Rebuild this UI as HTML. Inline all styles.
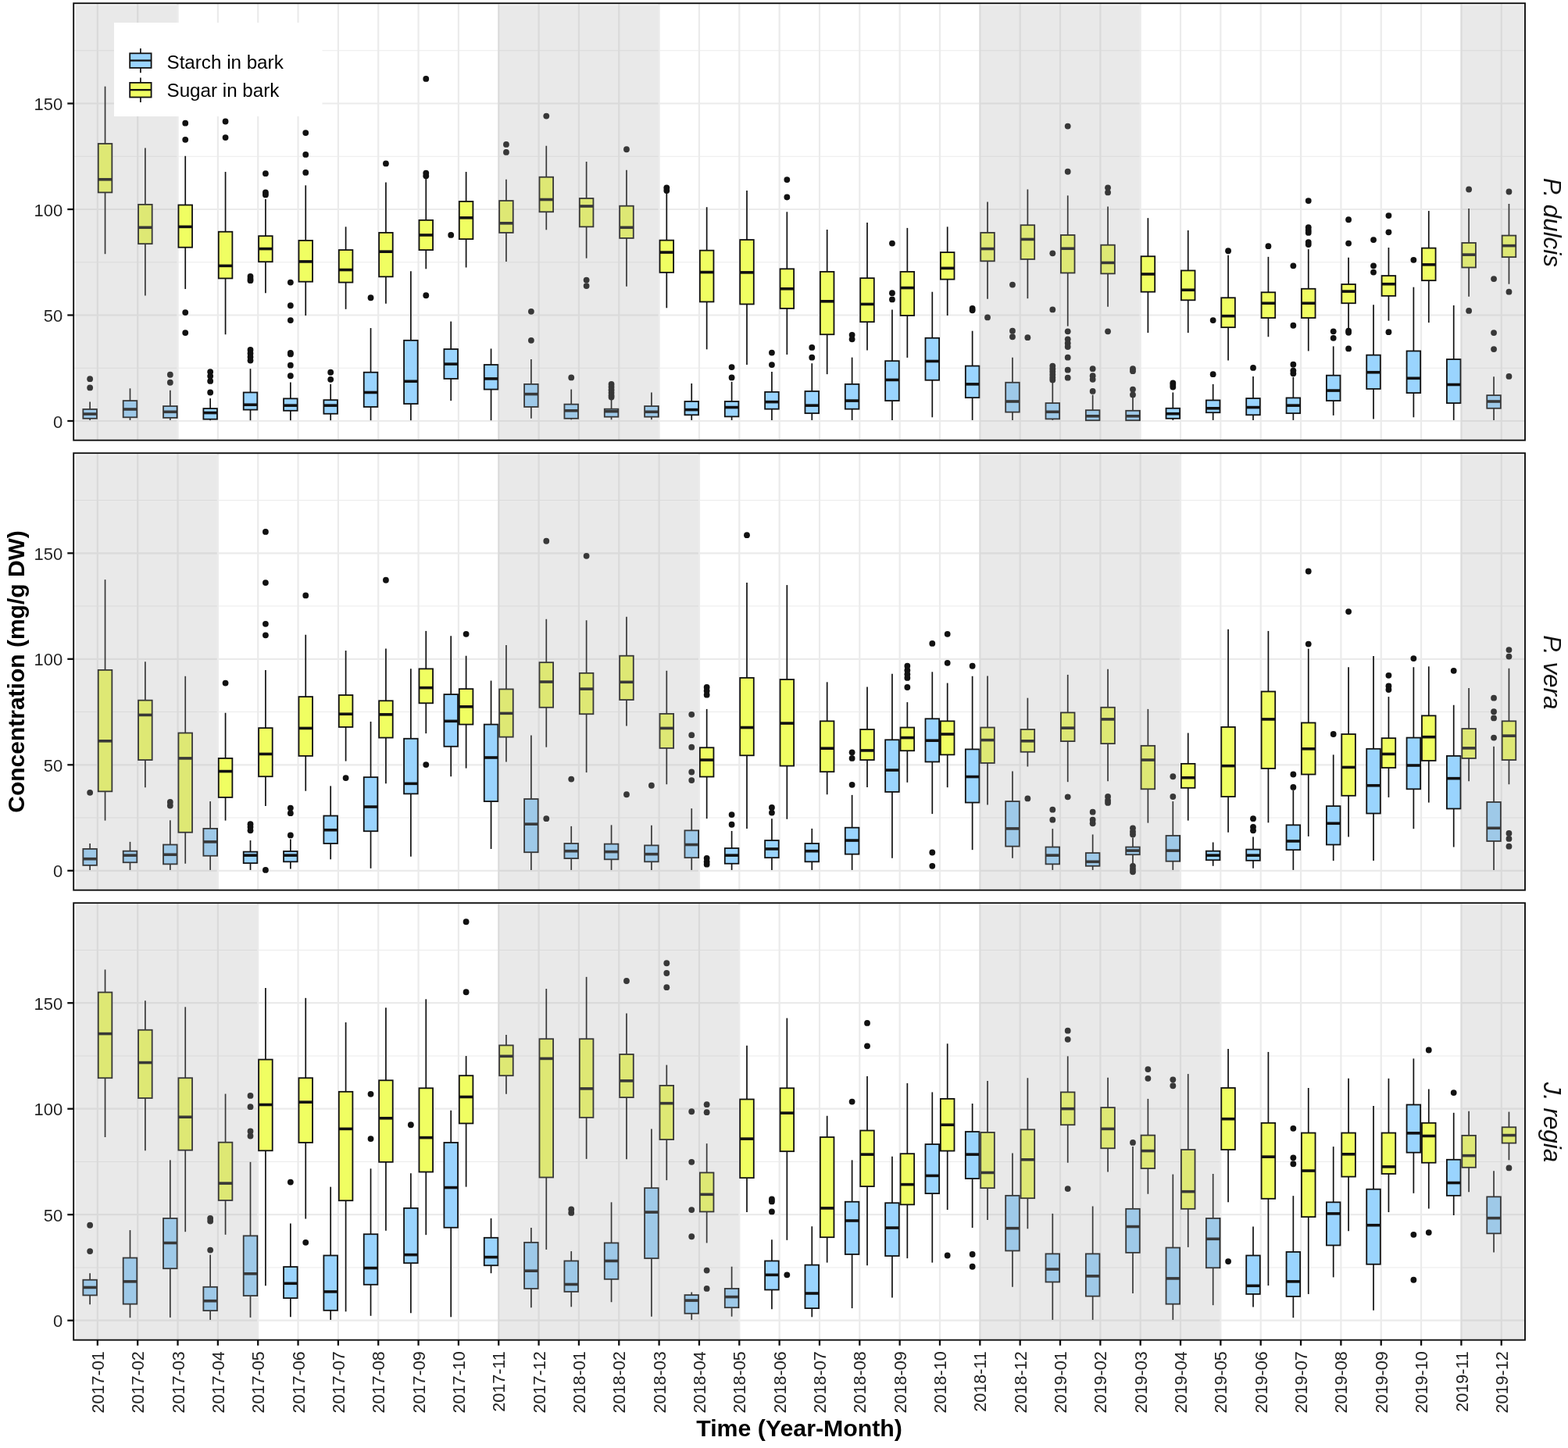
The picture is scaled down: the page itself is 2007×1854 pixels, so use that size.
<!DOCTYPE html>
<html><head><meta charset="utf-8"><title>Starch and sugar in bark</title>
<style>html,body{margin:0;padding:0;background:#fff;}svg{display:block;}text{font-family:"Liberation Sans",Arial,sans-serif;}</style></head><body>
<svg width="2007" height="1854" viewBox="0 0 2007 1854">
<rect x="0" y="0" width="2007" height="1854" fill="#fff"/>
<g>
<rect x="94.2" y="4.2" width="1857.8" height="559.5" fill="#fff"/>
<line x1="94.2" y1="471.25" x2="1952" y2="471.25" stroke="#ebebeb" stroke-width="1.1"/>
<line x1="94.2" y1="335.75" x2="1952" y2="335.75" stroke="#ebebeb" stroke-width="1.1"/>
<line x1="94.2" y1="200.25" x2="1952" y2="200.25" stroke="#ebebeb" stroke-width="1.1"/>
<line x1="94.2" y1="64.75" x2="1952" y2="64.75" stroke="#ebebeb" stroke-width="1.1"/>
<line x1="94.2" y1="539" x2="1952" y2="539" stroke="#ebebeb" stroke-width="2.2"/>
<line x1="94.2" y1="403.5" x2="1952" y2="403.5" stroke="#ebebeb" stroke-width="2.2"/>
<line x1="94.2" y1="268" x2="1952" y2="268" stroke="#ebebeb" stroke-width="2.2"/>
<line x1="94.2" y1="132.5" x2="1952" y2="132.5" stroke="#ebebeb" stroke-width="2.2"/>
<line x1="124.85" y1="4.2" x2="124.85" y2="563.7" stroke="#ebebeb" stroke-width="2.2"/>
<line x1="176.19" y1="4.2" x2="176.19" y2="563.7" stroke="#ebebeb" stroke-width="2.2"/>
<line x1="227.53" y1="4.2" x2="227.53" y2="563.7" stroke="#ebebeb" stroke-width="2.2"/>
<line x1="278.87" y1="4.2" x2="278.87" y2="563.7" stroke="#ebebeb" stroke-width="2.2"/>
<line x1="330.21" y1="4.2" x2="330.21" y2="563.7" stroke="#ebebeb" stroke-width="2.2"/>
<line x1="381.55" y1="4.2" x2="381.55" y2="563.7" stroke="#ebebeb" stroke-width="2.2"/>
<line x1="432.89" y1="4.2" x2="432.89" y2="563.7" stroke="#ebebeb" stroke-width="2.2"/>
<line x1="484.23" y1="4.2" x2="484.23" y2="563.7" stroke="#ebebeb" stroke-width="2.2"/>
<line x1="535.57" y1="4.2" x2="535.57" y2="563.7" stroke="#ebebeb" stroke-width="2.2"/>
<line x1="586.91" y1="4.2" x2="586.91" y2="563.7" stroke="#ebebeb" stroke-width="2.2"/>
<line x1="638.25" y1="4.2" x2="638.25" y2="563.7" stroke="#ebebeb" stroke-width="2.2"/>
<line x1="689.59" y1="4.2" x2="689.59" y2="563.7" stroke="#ebebeb" stroke-width="2.2"/>
<line x1="740.93" y1="4.2" x2="740.93" y2="563.7" stroke="#ebebeb" stroke-width="2.2"/>
<line x1="792.27" y1="4.2" x2="792.27" y2="563.7" stroke="#ebebeb" stroke-width="2.2"/>
<line x1="843.61" y1="4.2" x2="843.61" y2="563.7" stroke="#ebebeb" stroke-width="2.2"/>
<line x1="894.95" y1="4.2" x2="894.95" y2="563.7" stroke="#ebebeb" stroke-width="2.2"/>
<line x1="946.29" y1="4.2" x2="946.29" y2="563.7" stroke="#ebebeb" stroke-width="2.2"/>
<line x1="997.63" y1="4.2" x2="997.63" y2="563.7" stroke="#ebebeb" stroke-width="2.2"/>
<line x1="1048.97" y1="4.2" x2="1048.97" y2="563.7" stroke="#ebebeb" stroke-width="2.2"/>
<line x1="1100.31" y1="4.2" x2="1100.31" y2="563.7" stroke="#ebebeb" stroke-width="2.2"/>
<line x1="1151.65" y1="4.2" x2="1151.65" y2="563.7" stroke="#ebebeb" stroke-width="2.2"/>
<line x1="1202.99" y1="4.2" x2="1202.99" y2="563.7" stroke="#ebebeb" stroke-width="2.2"/>
<line x1="1254.33" y1="4.2" x2="1254.33" y2="563.7" stroke="#ebebeb" stroke-width="2.2"/>
<line x1="1305.67" y1="4.2" x2="1305.67" y2="563.7" stroke="#ebebeb" stroke-width="2.2"/>
<line x1="1357.01" y1="4.2" x2="1357.01" y2="563.7" stroke="#ebebeb" stroke-width="2.2"/>
<line x1="1408.35" y1="4.2" x2="1408.35" y2="563.7" stroke="#ebebeb" stroke-width="2.2"/>
<line x1="1459.69" y1="4.2" x2="1459.69" y2="563.7" stroke="#ebebeb" stroke-width="2.2"/>
<line x1="1511.03" y1="4.2" x2="1511.03" y2="563.7" stroke="#ebebeb" stroke-width="2.2"/>
<line x1="1562.37" y1="4.2" x2="1562.37" y2="563.7" stroke="#ebebeb" stroke-width="2.2"/>
<line x1="1613.71" y1="4.2" x2="1613.71" y2="563.7" stroke="#ebebeb" stroke-width="2.2"/>
<line x1="1665.05" y1="4.2" x2="1665.05" y2="563.7" stroke="#ebebeb" stroke-width="2.2"/>
<line x1="1716.39" y1="4.2" x2="1716.39" y2="563.7" stroke="#ebebeb" stroke-width="2.2"/>
<line x1="1767.73" y1="4.2" x2="1767.73" y2="563.7" stroke="#ebebeb" stroke-width="2.2"/>
<line x1="1819.07" y1="4.2" x2="1819.07" y2="563.7" stroke="#ebebeb" stroke-width="2.2"/>
<line x1="1870.41" y1="4.2" x2="1870.41" y2="563.7" stroke="#ebebeb" stroke-width="2.2"/>
<line x1="1921.75" y1="4.2" x2="1921.75" y2="563.7" stroke="#ebebeb" stroke-width="2.2"/>
<line x1="115.15" y1="514.61" x2="115.15" y2="524" stroke="#111111" stroke-width="1.7"/>
<line x1="115.15" y1="535.82" x2="115.15" y2="537.94" stroke="#111111" stroke-width="1.7"/>
<rect x="106.35" y="524" width="17.6" height="11.82" fill="#9ad4fe" stroke="#111111" stroke-width="1.8"/>
<line x1="106.35" y1="530.06" x2="123.95" y2="530.06" stroke="#111111" stroke-width="3.6"/>
<circle cx="115.15" cy="485.21" r="3.9" fill="#111111"/>
<circle cx="115.15" cy="496.42" r="3.9" fill="#111111"/>
<line x1="134.55" y1="110.67" x2="134.55" y2="184" stroke="#111111" stroke-width="1.7"/>
<line x1="134.55" y1="246.42" x2="134.55" y2="325.21" stroke="#111111" stroke-width="1.7"/>
<rect x="125.75" y="184" width="17.6" height="62.42" fill="#f0fe62" stroke="#111111" stroke-width="1.8"/>
<line x1="125.75" y1="229.76" x2="143.35" y2="229.76" stroke="#111111" stroke-width="3.6"/>
<line x1="166.49" y1="497.33" x2="166.49" y2="513.09" stroke="#111111" stroke-width="1.7"/>
<line x1="166.49" y1="534.3" x2="166.49" y2="537.94" stroke="#111111" stroke-width="1.7"/>
<rect x="157.69" y="513.09" width="17.6" height="21.21" fill="#9ad4fe" stroke="#111111" stroke-width="1.8"/>
<line x1="157.69" y1="524" x2="175.29" y2="524" stroke="#111111" stroke-width="3.6"/>
<line x1="185.89" y1="189.45" x2="185.89" y2="261.88" stroke="#111111" stroke-width="1.7"/>
<line x1="185.89" y1="312.18" x2="185.89" y2="378.55" stroke="#111111" stroke-width="1.7"/>
<rect x="177.09" y="261.88" width="17.6" height="50.3" fill="#f0fe62" stroke="#111111" stroke-width="1.8"/>
<line x1="177.09" y1="291.27" x2="194.69" y2="291.27" stroke="#111111" stroke-width="3.6"/>
<line x1="217.83" y1="499.76" x2="217.83" y2="520.06" stroke="#111111" stroke-width="1.7"/>
<line x1="217.83" y1="534.91" x2="217.83" y2="537.94" stroke="#111111" stroke-width="1.7"/>
<rect x="209.03" y="520.06" width="17.6" height="14.85" fill="#9ad4fe" stroke="#111111" stroke-width="1.8"/>
<line x1="209.03" y1="527.33" x2="226.63" y2="527.33" stroke="#111111" stroke-width="3.6"/>
<circle cx="217.83" cy="479.76" r="3.9" fill="#111111"/>
<circle cx="217.83" cy="489.76" r="3.9" fill="#111111"/>
<line x1="237.23" y1="199.76" x2="237.23" y2="262.48" stroke="#111111" stroke-width="1.7"/>
<line x1="237.23" y1="316.73" x2="237.23" y2="370.06" stroke="#111111" stroke-width="1.7"/>
<rect x="228.43" y="262.48" width="17.6" height="54.24" fill="#f0fe62" stroke="#111111" stroke-width="1.8"/>
<line x1="228.43" y1="290.36" x2="246.03" y2="290.36" stroke="#111111" stroke-width="3.6"/>
<circle cx="237.23" cy="157.64" r="3.9" fill="#111111"/>
<circle cx="237.23" cy="178.85" r="3.9" fill="#111111"/>
<circle cx="237.23" cy="400.06" r="3.9" fill="#111111"/>
<circle cx="237.23" cy="426.12" r="3.9" fill="#111111"/>
<line x1="269.17" y1="510.06" x2="269.17" y2="523.09" stroke="#111111" stroke-width="1.7"/>
<line x1="269.17" y1="536.73" x2="269.17" y2="538.24" stroke="#111111" stroke-width="1.7"/>
<rect x="260.37" y="523.09" width="17.6" height="13.64" fill="#9ad4fe" stroke="#111111" stroke-width="1.8"/>
<line x1="260.37" y1="528.55" x2="277.97" y2="528.55" stroke="#111111" stroke-width="3.6"/>
<circle cx="269.17" cy="476.12" r="3.9" fill="#111111"/>
<circle cx="269.17" cy="481.58" r="3.9" fill="#111111"/>
<circle cx="269.17" cy="487.94" r="3.9" fill="#111111"/>
<circle cx="269.17" cy="502.48" r="3.9" fill="#111111"/>
<line x1="288.57" y1="220.06" x2="288.57" y2="296.73" stroke="#111111" stroke-width="1.7"/>
<line x1="288.57" y1="356.42" x2="288.57" y2="428.24" stroke="#111111" stroke-width="1.7"/>
<rect x="279.77" y="296.73" width="17.6" height="59.7" fill="#f0fe62" stroke="#111111" stroke-width="1.8"/>
<line x1="279.77" y1="340.36" x2="297.37" y2="340.36" stroke="#111111" stroke-width="3.6"/>
<circle cx="288.57" cy="155.52" r="3.9" fill="#111111"/>
<circle cx="288.57" cy="176.12" r="3.9" fill="#111111"/>
<line x1="320.51" y1="472.18" x2="320.51" y2="502.48" stroke="#111111" stroke-width="1.7"/>
<line x1="320.51" y1="524.61" x2="320.51" y2="538.24" stroke="#111111" stroke-width="1.7"/>
<rect x="311.71" y="502.48" width="17.6" height="22.12" fill="#9ad4fe" stroke="#111111" stroke-width="1.8"/>
<line x1="311.71" y1="518.24" x2="329.31" y2="518.24" stroke="#111111" stroke-width="3.6"/>
<circle cx="320.51" cy="447.94" r="3.9" fill="#111111"/>
<circle cx="320.51" cy="452.48" r="3.9" fill="#111111"/>
<circle cx="320.51" cy="457.03" r="3.9" fill="#111111"/>
<circle cx="320.51" cy="461.58" r="3.9" fill="#111111"/>
<circle cx="320.51" cy="354" r="3.9" fill="#111111"/>
<circle cx="320.51" cy="357.03" r="3.9" fill="#111111"/>
<circle cx="320.51" cy="359.15" r="3.9" fill="#111111"/>
<line x1="339.91" y1="254.91" x2="339.91" y2="302.18" stroke="#111111" stroke-width="1.7"/>
<line x1="339.91" y1="335.21" x2="339.91" y2="375.21" stroke="#111111" stroke-width="1.7"/>
<rect x="331.11" y="302.18" width="17.6" height="33.03" fill="#f0fe62" stroke="#111111" stroke-width="1.8"/>
<line x1="331.11" y1="318.55" x2="348.71" y2="318.55" stroke="#111111" stroke-width="3.6"/>
<circle cx="339.91" cy="222.18" r="3.9" fill="#111111"/>
<circle cx="339.91" cy="246.42" r="3.9" fill="#111111"/>
<circle cx="339.91" cy="249.45" r="3.9" fill="#111111"/>
<line x1="371.85" y1="489.45" x2="371.85" y2="510.36" stroke="#111111" stroke-width="1.7"/>
<line x1="371.85" y1="525.82" x2="371.85" y2="538.24" stroke="#111111" stroke-width="1.7"/>
<rect x="363.05" y="510.36" width="17.6" height="15.45" fill="#9ad4fe" stroke="#111111" stroke-width="1.8"/>
<line x1="363.05" y1="519.15" x2="380.65" y2="519.15" stroke="#111111" stroke-width="3.6"/>
<circle cx="371.85" cy="361.58" r="3.9" fill="#111111"/>
<circle cx="371.85" cy="391.27" r="3.9" fill="#111111"/>
<circle cx="371.85" cy="410.06" r="3.9" fill="#111111"/>
<circle cx="371.85" cy="451.88" r="3.9" fill="#111111"/>
<circle cx="371.85" cy="453.39" r="3.9" fill="#111111"/>
<circle cx="371.85" cy="467.64" r="3.9" fill="#111111"/>
<circle cx="371.85" cy="481.27" r="3.9" fill="#111111"/>
<line x1="391.25" y1="237.33" x2="391.25" y2="307.94" stroke="#111111" stroke-width="1.7"/>
<line x1="391.25" y1="360.67" x2="391.25" y2="404" stroke="#111111" stroke-width="1.7"/>
<rect x="382.45" y="307.94" width="17.6" height="52.73" fill="#f0fe62" stroke="#111111" stroke-width="1.8"/>
<line x1="382.45" y1="334.91" x2="400.05" y2="334.91" stroke="#111111" stroke-width="3.6"/>
<circle cx="391.25" cy="170.06" r="3.9" fill="#111111"/>
<circle cx="391.25" cy="197.94" r="3.9" fill="#111111"/>
<circle cx="391.25" cy="220.97" r="3.9" fill="#111111"/>
<line x1="423.19" y1="491.88" x2="423.19" y2="512.18" stroke="#111111" stroke-width="1.7"/>
<line x1="423.19" y1="529.76" x2="423.19" y2="538.24" stroke="#111111" stroke-width="1.7"/>
<rect x="414.39" y="512.18" width="17.6" height="17.58" fill="#9ad4fe" stroke="#111111" stroke-width="1.8"/>
<line x1="414.39" y1="519.15" x2="431.99" y2="519.15" stroke="#111111" stroke-width="3.6"/>
<circle cx="423.19" cy="476.73" r="3.9" fill="#111111"/>
<circle cx="423.19" cy="485.82" r="3.9" fill="#111111"/>
<line x1="442.59" y1="290.36" x2="442.59" y2="320.06" stroke="#111111" stroke-width="1.7"/>
<line x1="442.59" y1="361.58" x2="442.59" y2="395.82" stroke="#111111" stroke-width="1.7"/>
<rect x="433.79" y="320.06" width="17.6" height="41.52" fill="#f0fe62" stroke="#111111" stroke-width="1.8"/>
<line x1="433.79" y1="345.52" x2="451.39" y2="345.52" stroke="#111111" stroke-width="3.6"/>
<line x1="474.53" y1="420.06" x2="474.53" y2="476.73" stroke="#111111" stroke-width="1.7"/>
<line x1="474.53" y1="520.97" x2="474.53" y2="538.24" stroke="#111111" stroke-width="1.7"/>
<rect x="465.73" y="476.73" width="17.6" height="44.24" fill="#9ad4fe" stroke="#111111" stroke-width="1.8"/>
<line x1="465.73" y1="502.48" x2="483.33" y2="502.48" stroke="#111111" stroke-width="3.6"/>
<circle cx="474.53" cy="381.27" r="3.9" fill="#111111"/>
<line x1="493.93" y1="233.39" x2="493.93" y2="297.94" stroke="#111111" stroke-width="1.7"/>
<line x1="493.93" y1="354.3" x2="493.93" y2="388.85" stroke="#111111" stroke-width="1.7"/>
<rect x="485.13" y="297.94" width="17.6" height="56.36" fill="#f0fe62" stroke="#111111" stroke-width="1.8"/>
<line x1="485.13" y1="322.18" x2="502.73" y2="322.18" stroke="#111111" stroke-width="3.6"/>
<circle cx="493.93" cy="209.45" r="3.9" fill="#111111"/>
<line x1="525.87" y1="347.33" x2="525.87" y2="435.82" stroke="#111111" stroke-width="1.7"/>
<line x1="525.87" y1="517.03" x2="525.87" y2="538.24" stroke="#111111" stroke-width="1.7"/>
<rect x="517.07" y="435.82" width="17.6" height="81.21" fill="#9ad4fe" stroke="#111111" stroke-width="1.8"/>
<line x1="517.07" y1="488.24" x2="534.67" y2="488.24" stroke="#111111" stroke-width="3.6"/>
<line x1="545.27" y1="226.73" x2="545.27" y2="281.88" stroke="#111111" stroke-width="1.7"/>
<line x1="545.27" y1="320.06" x2="545.27" y2="344.3" stroke="#111111" stroke-width="1.7"/>
<rect x="536.47" y="281.88" width="17.6" height="38.18" fill="#f0fe62" stroke="#111111" stroke-width="1.8"/>
<line x1="536.47" y1="300.97" x2="554.07" y2="300.97" stroke="#111111" stroke-width="3.6"/>
<circle cx="545.27" cy="100.97" r="3.9" fill="#111111"/>
<circle cx="545.27" cy="221.58" r="3.9" fill="#111111"/>
<circle cx="545.27" cy="225.21" r="3.9" fill="#111111"/>
<circle cx="545.27" cy="378.24" r="3.9" fill="#111111"/>
<line x1="577.21" y1="411.58" x2="577.21" y2="447.03" stroke="#111111" stroke-width="1.7"/>
<line x1="577.21" y1="484.91" x2="577.21" y2="513.09" stroke="#111111" stroke-width="1.7"/>
<rect x="568.41" y="447.03" width="17.6" height="37.88" fill="#9ad4fe" stroke="#111111" stroke-width="1.8"/>
<line x1="568.41" y1="466.12" x2="586.01" y2="466.12" stroke="#111111" stroke-width="3.6"/>
<circle cx="577.21" cy="300.97" r="3.9" fill="#111111"/>
<line x1="596.61" y1="220.06" x2="596.61" y2="257.94" stroke="#111111" stroke-width="1.7"/>
<line x1="596.61" y1="306.12" x2="596.61" y2="342.48" stroke="#111111" stroke-width="1.7"/>
<rect x="587.81" y="257.94" width="17.6" height="48.18" fill="#f0fe62" stroke="#111111" stroke-width="1.8"/>
<line x1="587.81" y1="278.85" x2="605.41" y2="278.85" stroke="#111111" stroke-width="3.6"/>
<line x1="628.55" y1="446.42" x2="628.55" y2="467.03" stroke="#111111" stroke-width="1.7"/>
<line x1="628.55" y1="498.55" x2="628.55" y2="538.24" stroke="#111111" stroke-width="1.7"/>
<rect x="619.75" y="467.03" width="17.6" height="31.52" fill="#9ad4fe" stroke="#111111" stroke-width="1.8"/>
<line x1="619.75" y1="484.91" x2="637.35" y2="484.91" stroke="#111111" stroke-width="3.6"/>
<line x1="647.95" y1="229.76" x2="647.95" y2="257.03" stroke="#111111" stroke-width="1.7"/>
<line x1="647.95" y1="297.94" x2="647.95" y2="334.91" stroke="#111111" stroke-width="1.7"/>
<rect x="639.15" y="257.03" width="17.6" height="40.91" fill="#f0fe62" stroke="#111111" stroke-width="1.8"/>
<line x1="639.15" y1="285.82" x2="656.75" y2="285.82" stroke="#111111" stroke-width="3.6"/>
<circle cx="647.95" cy="184.91" r="3.9" fill="#111111"/>
<circle cx="647.95" cy="194.91" r="3.9" fill="#111111"/>
<line x1="679.89" y1="460.06" x2="679.89" y2="491.88" stroke="#111111" stroke-width="1.7"/>
<line x1="679.89" y1="520.97" x2="679.89" y2="535.82" stroke="#111111" stroke-width="1.7"/>
<rect x="671.09" y="491.88" width="17.6" height="29.09" fill="#9ad4fe" stroke="#111111" stroke-width="1.8"/>
<line x1="671.09" y1="504.61" x2="688.69" y2="504.61" stroke="#111111" stroke-width="3.6"/>
<circle cx="679.89" cy="398.85" r="3.9" fill="#111111"/>
<circle cx="679.89" cy="435.82" r="3.9" fill="#111111"/>
<line x1="699.29" y1="186.73" x2="699.29" y2="226.73" stroke="#111111" stroke-width="1.7"/>
<line x1="699.29" y1="271.27" x2="699.29" y2="294.3" stroke="#111111" stroke-width="1.7"/>
<rect x="690.49" y="226.73" width="17.6" height="44.55" fill="#f0fe62" stroke="#111111" stroke-width="1.8"/>
<line x1="690.49" y1="255.52" x2="708.09" y2="255.52" stroke="#111111" stroke-width="3.6"/>
<circle cx="699.29" cy="148.55" r="3.9" fill="#111111"/>
<line x1="731.23" y1="498.55" x2="731.23" y2="517.64" stroke="#111111" stroke-width="1.7"/>
<line x1="731.23" y1="535.82" x2="731.23" y2="537.33" stroke="#111111" stroke-width="1.7"/>
<rect x="722.43" y="517.64" width="17.6" height="18.18" fill="#9ad4fe" stroke="#111111" stroke-width="1.8"/>
<line x1="722.43" y1="525.82" x2="740.03" y2="525.82" stroke="#111111" stroke-width="3.6"/>
<circle cx="731.23" cy="483.39" r="3.9" fill="#111111"/>
<line x1="750.63" y1="207.03" x2="750.63" y2="254" stroke="#111111" stroke-width="1.7"/>
<line x1="750.63" y1="290.36" x2="750.63" y2="330.67" stroke="#111111" stroke-width="1.7"/>
<rect x="741.83" y="254" width="17.6" height="36.36" fill="#f0fe62" stroke="#111111" stroke-width="1.8"/>
<line x1="741.83" y1="264" x2="759.43" y2="264" stroke="#111111" stroke-width="3.6"/>
<circle cx="750.63" cy="358.55" r="3.9" fill="#111111"/>
<circle cx="750.63" cy="366.12" r="3.9" fill="#111111"/>
<line x1="782.57" y1="510.67" x2="782.57" y2="523.7" stroke="#111111" stroke-width="1.7"/>
<line x1="782.57" y1="533.7" x2="782.57" y2="537.33" stroke="#111111" stroke-width="1.7"/>
<rect x="773.77" y="523.7" width="17.6" height="10" fill="#9ad4fe" stroke="#111111" stroke-width="1.8"/>
<line x1="773.77" y1="526.73" x2="791.37" y2="526.73" stroke="#111111" stroke-width="3.6"/>
<circle cx="782.57" cy="491.88" r="3.9" fill="#111111"/>
<circle cx="782.57" cy="495.52" r="3.9" fill="#111111"/>
<circle cx="782.57" cy="499.15" r="3.9" fill="#111111"/>
<circle cx="782.57" cy="502.79" r="3.9" fill="#111111"/>
<circle cx="782.57" cy="506.42" r="3.9" fill="#111111"/>
<circle cx="782.57" cy="508.55" r="3.9" fill="#111111"/>
<line x1="801.97" y1="217.64" x2="801.97" y2="263.7" stroke="#111111" stroke-width="1.7"/>
<line x1="801.97" y1="304.91" x2="801.97" y2="366.73" stroke="#111111" stroke-width="1.7"/>
<rect x="793.17" y="263.7" width="17.6" height="41.21" fill="#f0fe62" stroke="#111111" stroke-width="1.8"/>
<line x1="793.17" y1="291.27" x2="810.77" y2="291.27" stroke="#111111" stroke-width="3.6"/>
<circle cx="801.97" cy="191.27" r="3.9" fill="#111111"/>
<line x1="833.91" y1="502.48" x2="833.91" y2="520.06" stroke="#111111" stroke-width="1.7"/>
<line x1="833.91" y1="533.7" x2="833.91" y2="537.33" stroke="#111111" stroke-width="1.7"/>
<rect x="825.11" y="520.06" width="17.6" height="13.64" fill="#9ad4fe" stroke="#111111" stroke-width="1.8"/>
<line x1="825.11" y1="527.33" x2="842.71" y2="527.33" stroke="#111111" stroke-width="3.6"/>
<line x1="853.31" y1="246.42" x2="853.31" y2="307.64" stroke="#111111" stroke-width="1.7"/>
<line x1="853.31" y1="348.85" x2="853.31" y2="394.3" stroke="#111111" stroke-width="1.7"/>
<rect x="844.51" y="307.64" width="17.6" height="41.21" fill="#f0fe62" stroke="#111111" stroke-width="1.8"/>
<line x1="844.51" y1="323.09" x2="862.11" y2="323.09" stroke="#111111" stroke-width="3.6"/>
<circle cx="853.31" cy="240.36" r="3.9" fill="#111111"/>
<circle cx="853.31" cy="244" r="3.9" fill="#111111"/>
<line x1="885.25" y1="490.97" x2="885.25" y2="514" stroke="#111111" stroke-width="1.7"/>
<line x1="885.25" y1="531.27" x2="885.25" y2="537.94" stroke="#111111" stroke-width="1.7"/>
<rect x="876.45" y="514" width="17.6" height="17.27" fill="#9ad4fe" stroke="#111111" stroke-width="1.8"/>
<line x1="876.45" y1="524.61" x2="894.05" y2="524.61" stroke="#111111" stroke-width="3.6"/>
<line x1="904.65" y1="265.21" x2="904.65" y2="320.67" stroke="#111111" stroke-width="1.7"/>
<line x1="904.65" y1="386.42" x2="904.65" y2="447.33" stroke="#111111" stroke-width="1.7"/>
<rect x="895.85" y="320.67" width="17.6" height="65.76" fill="#f0fe62" stroke="#111111" stroke-width="1.8"/>
<line x1="895.85" y1="348.55" x2="913.45" y2="348.55" stroke="#111111" stroke-width="3.6"/>
<line x1="936.59" y1="488.85" x2="936.59" y2="514" stroke="#111111" stroke-width="1.7"/>
<line x1="936.59" y1="533.39" x2="936.59" y2="537.94" stroke="#111111" stroke-width="1.7"/>
<rect x="927.79" y="514" width="17.6" height="19.39" fill="#9ad4fe" stroke="#111111" stroke-width="1.8"/>
<line x1="927.79" y1="521.58" x2="945.39" y2="521.58" stroke="#111111" stroke-width="3.6"/>
<circle cx="936.59" cy="470.06" r="3.9" fill="#111111"/>
<circle cx="936.59" cy="483.39" r="3.9" fill="#111111"/>
<line x1="955.99" y1="244" x2="955.99" y2="307.03" stroke="#111111" stroke-width="1.7"/>
<line x1="955.99" y1="389.45" x2="955.99" y2="467.03" stroke="#111111" stroke-width="1.7"/>
<rect x="947.19" y="307.03" width="17.6" height="82.42" fill="#f0fe62" stroke="#111111" stroke-width="1.8"/>
<line x1="947.19" y1="348.85" x2="964.79" y2="348.85" stroke="#111111" stroke-width="3.6"/>
<line x1="987.93" y1="476.12" x2="987.93" y2="501.88" stroke="#111111" stroke-width="1.7"/>
<line x1="987.93" y1="523.7" x2="987.93" y2="537.94" stroke="#111111" stroke-width="1.7"/>
<rect x="979.13" y="501.88" width="17.6" height="21.82" fill="#9ad4fe" stroke="#111111" stroke-width="1.8"/>
<line x1="979.13" y1="514.61" x2="996.73" y2="514.61" stroke="#111111" stroke-width="3.6"/>
<circle cx="987.93" cy="451.58" r="3.9" fill="#111111"/>
<circle cx="987.93" cy="467.03" r="3.9" fill="#111111"/>
<line x1="1007.33" y1="271.27" x2="1007.33" y2="344.3" stroke="#111111" stroke-width="1.7"/>
<line x1="1007.33" y1="394.91" x2="1007.33" y2="454" stroke="#111111" stroke-width="1.7"/>
<rect x="998.53" y="344.3" width="17.6" height="50.61" fill="#f0fe62" stroke="#111111" stroke-width="1.8"/>
<line x1="998.53" y1="369.76" x2="1016.13" y2="369.76" stroke="#111111" stroke-width="3.6"/>
<circle cx="1007.33" cy="230.06" r="3.9" fill="#111111"/>
<circle cx="1007.33" cy="252.48" r="3.9" fill="#111111"/>
<line x1="1039.27" y1="465.21" x2="1039.27" y2="500.97" stroke="#111111" stroke-width="1.7"/>
<line x1="1039.27" y1="529.15" x2="1039.27" y2="537.94" stroke="#111111" stroke-width="1.7"/>
<rect x="1030.47" y="500.97" width="17.6" height="28.18" fill="#9ad4fe" stroke="#111111" stroke-width="1.8"/>
<line x1="1030.47" y1="519.15" x2="1048.07" y2="519.15" stroke="#111111" stroke-width="3.6"/>
<circle cx="1039.27" cy="444.91" r="3.9" fill="#111111"/>
<circle cx="1039.27" cy="457.64" r="3.9" fill="#111111"/>
<line x1="1058.67" y1="294" x2="1058.67" y2="347.94" stroke="#111111" stroke-width="1.7"/>
<line x1="1058.67" y1="428.24" x2="1058.67" y2="479.15" stroke="#111111" stroke-width="1.7"/>
<rect x="1049.87" y="347.94" width="17.6" height="80.3" fill="#f0fe62" stroke="#111111" stroke-width="1.8"/>
<line x1="1049.87" y1="385.82" x2="1067.47" y2="385.82" stroke="#111111" stroke-width="3.6"/>
<line x1="1090.61" y1="457.64" x2="1090.61" y2="491.88" stroke="#111111" stroke-width="1.7"/>
<line x1="1090.61" y1="523.7" x2="1090.61" y2="537.94" stroke="#111111" stroke-width="1.7"/>
<rect x="1081.81" y="491.88" width="17.6" height="31.82" fill="#9ad4fe" stroke="#111111" stroke-width="1.8"/>
<line x1="1081.81" y1="513.09" x2="1099.41" y2="513.09" stroke="#111111" stroke-width="3.6"/>
<circle cx="1090.61" cy="428.85" r="3.9" fill="#111111"/>
<circle cx="1090.61" cy="434.3" r="3.9" fill="#111111"/>
<line x1="1110.01" y1="284.91" x2="1110.01" y2="356.12" stroke="#111111" stroke-width="1.7"/>
<line x1="1110.01" y1="412.18" x2="1110.01" y2="448.55" stroke="#111111" stroke-width="1.7"/>
<rect x="1101.21" y="356.12" width="17.6" height="56.06" fill="#f0fe62" stroke="#111111" stroke-width="1.8"/>
<line x1="1101.21" y1="389.45" x2="1118.81" y2="389.45" stroke="#111111" stroke-width="3.6"/>
<line x1="1141.95" y1="396.42" x2="1141.95" y2="462.18" stroke="#111111" stroke-width="1.7"/>
<line x1="1141.95" y1="513.09" x2="1141.95" y2="537.94" stroke="#111111" stroke-width="1.7"/>
<rect x="1133.15" y="462.18" width="17.6" height="50.91" fill="#9ad4fe" stroke="#111111" stroke-width="1.8"/>
<line x1="1133.15" y1="486.42" x2="1150.75" y2="486.42" stroke="#111111" stroke-width="3.6"/>
<circle cx="1141.95" cy="311.58" r="3.9" fill="#111111"/>
<circle cx="1141.95" cy="375.21" r="3.9" fill="#111111"/>
<circle cx="1141.95" cy="383.39" r="3.9" fill="#111111"/>
<line x1="1161.35" y1="291.88" x2="1161.35" y2="347.94" stroke="#111111" stroke-width="1.7"/>
<line x1="1161.35" y1="404" x2="1161.35" y2="457.94" stroke="#111111" stroke-width="1.7"/>
<rect x="1152.55" y="347.94" width="17.6" height="56.06" fill="#f0fe62" stroke="#111111" stroke-width="1.8"/>
<line x1="1152.55" y1="368.55" x2="1170.15" y2="368.55" stroke="#111111" stroke-width="3.6"/>
<line x1="1193.29" y1="373.7" x2="1193.29" y2="432.79" stroke="#111111" stroke-width="1.7"/>
<line x1="1193.29" y1="486.73" x2="1193.29" y2="534.3" stroke="#111111" stroke-width="1.7"/>
<rect x="1184.49" y="432.79" width="17.6" height="53.94" fill="#9ad4fe" stroke="#111111" stroke-width="1.8"/>
<line x1="1184.49" y1="462.48" x2="1202.09" y2="462.48" stroke="#111111" stroke-width="3.6"/>
<line x1="1212.69" y1="290.36" x2="1212.69" y2="323.09" stroke="#111111" stroke-width="1.7"/>
<line x1="1212.69" y1="357.64" x2="1212.69" y2="404" stroke="#111111" stroke-width="1.7"/>
<rect x="1203.89" y="323.09" width="17.6" height="34.55" fill="#f0fe62" stroke="#111111" stroke-width="1.8"/>
<line x1="1203.89" y1="343.39" x2="1221.49" y2="343.39" stroke="#111111" stroke-width="3.6"/>
<line x1="1244.63" y1="423.7" x2="1244.63" y2="468.55" stroke="#111111" stroke-width="1.7"/>
<line x1="1244.63" y1="509.15" x2="1244.63" y2="537.94" stroke="#111111" stroke-width="1.7"/>
<rect x="1235.83" y="468.55" width="17.6" height="40.61" fill="#9ad4fe" stroke="#111111" stroke-width="1.8"/>
<line x1="1235.83" y1="491.88" x2="1253.43" y2="491.88" stroke="#111111" stroke-width="3.6"/>
<circle cx="1244.63" cy="394.91" r="3.9" fill="#111111"/>
<circle cx="1244.63" cy="397.33" r="3.9" fill="#111111"/>
<line x1="1264.03" y1="258.55" x2="1264.03" y2="297.94" stroke="#111111" stroke-width="1.7"/>
<line x1="1264.03" y1="334.3" x2="1264.03" y2="382.79" stroke="#111111" stroke-width="1.7"/>
<rect x="1255.23" y="297.94" width="17.6" height="36.36" fill="#f0fe62" stroke="#111111" stroke-width="1.8"/>
<line x1="1255.23" y1="318.55" x2="1272.83" y2="318.55" stroke="#111111" stroke-width="3.6"/>
<circle cx="1264.03" cy="406.42" r="3.9" fill="#111111"/>
<line x1="1295.97" y1="457.64" x2="1295.97" y2="489.76" stroke="#111111" stroke-width="1.7"/>
<line x1="1295.97" y1="527.64" x2="1295.97" y2="537.94" stroke="#111111" stroke-width="1.7"/>
<rect x="1287.17" y="489.76" width="17.6" height="37.88" fill="#9ad4fe" stroke="#111111" stroke-width="1.8"/>
<line x1="1287.17" y1="514" x2="1304.77" y2="514" stroke="#111111" stroke-width="3.6"/>
<circle cx="1295.97" cy="364.61" r="3.9" fill="#111111"/>
<circle cx="1295.97" cy="423.7" r="3.9" fill="#111111"/>
<circle cx="1295.97" cy="431.27" r="3.9" fill="#111111"/>
<line x1="1315.37" y1="242.48" x2="1315.37" y2="288.24" stroke="#111111" stroke-width="1.7"/>
<line x1="1315.37" y1="331.88" x2="1315.37" y2="382.18" stroke="#111111" stroke-width="1.7"/>
<rect x="1306.57" y="288.24" width="17.6" height="43.64" fill="#f0fe62" stroke="#111111" stroke-width="1.8"/>
<line x1="1306.57" y1="306.42" x2="1324.17" y2="306.42" stroke="#111111" stroke-width="3.6"/>
<circle cx="1315.37" cy="432.18" r="3.9" fill="#111111"/>
<line x1="1347.31" y1="488.85" x2="1347.31" y2="516.12" stroke="#111111" stroke-width="1.7"/>
<line x1="1347.31" y1="536.42" x2="1347.31" y2="537.94" stroke="#111111" stroke-width="1.7"/>
<rect x="1338.51" y="516.12" width="17.6" height="20.3" fill="#9ad4fe" stroke="#111111" stroke-width="1.8"/>
<line x1="1338.51" y1="527.33" x2="1356.11" y2="527.33" stroke="#111111" stroke-width="3.6"/>
<circle cx="1347.31" cy="468.55" r="3.9" fill="#111111"/>
<circle cx="1347.31" cy="472.18" r="3.9" fill="#111111"/>
<circle cx="1347.31" cy="475.82" r="3.9" fill="#111111"/>
<circle cx="1347.31" cy="479.76" r="3.9" fill="#111111"/>
<circle cx="1347.31" cy="483.39" r="3.9" fill="#111111"/>
<circle cx="1347.31" cy="486.42" r="3.9" fill="#111111"/>
<circle cx="1347.31" cy="324.3" r="3.9" fill="#111111"/>
<circle cx="1347.31" cy="396.42" r="3.9" fill="#111111"/>
<line x1="1366.71" y1="250.36" x2="1366.71" y2="300.97" stroke="#111111" stroke-width="1.7"/>
<line x1="1366.71" y1="349.45" x2="1366.71" y2="417.64" stroke="#111111" stroke-width="1.7"/>
<rect x="1357.91" y="300.97" width="17.6" height="48.48" fill="#f0fe62" stroke="#111111" stroke-width="1.8"/>
<line x1="1357.91" y1="318.24" x2="1375.51" y2="318.24" stroke="#111111" stroke-width="3.6"/>
<circle cx="1366.71" cy="161.58" r="3.9" fill="#111111"/>
<circle cx="1366.71" cy="219.76" r="3.9" fill="#111111"/>
<circle cx="1366.71" cy="424.3" r="3.9" fill="#111111"/>
<circle cx="1366.71" cy="434.3" r="3.9" fill="#111111"/>
<circle cx="1366.71" cy="439.45" r="3.9" fill="#111111"/>
<circle cx="1366.71" cy="444" r="3.9" fill="#111111"/>
<circle cx="1366.71" cy="457.64" r="3.9" fill="#111111"/>
<circle cx="1366.71" cy="473.7" r="3.9" fill="#111111"/>
<circle cx="1366.71" cy="483.7" r="3.9" fill="#111111"/>
<line x1="1398.65" y1="505.52" x2="1398.65" y2="525.21" stroke="#111111" stroke-width="1.7"/>
<line x1="1398.65" y1="538.24" x2="1398.65" y2="538.85" stroke="#111111" stroke-width="1.7"/>
<rect x="1389.85" y="525.21" width="17.6" height="13.03" fill="#9ad4fe" stroke="#111111" stroke-width="1.8"/>
<line x1="1389.85" y1="532.79" x2="1407.45" y2="532.79" stroke="#111111" stroke-width="3.6"/>
<circle cx="1398.65" cy="472.18" r="3.9" fill="#111111"/>
<circle cx="1398.65" cy="481.27" r="3.9" fill="#111111"/>
<circle cx="1398.65" cy="485.82" r="3.9" fill="#111111"/>
<circle cx="1398.65" cy="500.97" r="3.9" fill="#111111"/>
<line x1="1418.05" y1="264.61" x2="1418.05" y2="313.7" stroke="#111111" stroke-width="1.7"/>
<line x1="1418.05" y1="350.36" x2="1418.05" y2="392.79" stroke="#111111" stroke-width="1.7"/>
<rect x="1409.25" y="313.7" width="17.6" height="36.67" fill="#f0fe62" stroke="#111111" stroke-width="1.8"/>
<line x1="1409.25" y1="336.42" x2="1426.85" y2="336.42" stroke="#111111" stroke-width="3.6"/>
<circle cx="1418.05" cy="240.36" r="3.9" fill="#111111"/>
<circle cx="1418.05" cy="246.42" r="3.9" fill="#111111"/>
<circle cx="1418.05" cy="424.3" r="3.9" fill="#111111"/>
<line x1="1449.99" y1="508.55" x2="1449.99" y2="525.82" stroke="#111111" stroke-width="1.7"/>
<line x1="1449.99" y1="538.24" x2="1449.99" y2="538.85" stroke="#111111" stroke-width="1.7"/>
<rect x="1441.19" y="525.82" width="17.6" height="12.42" fill="#9ad4fe" stroke="#111111" stroke-width="1.8"/>
<line x1="1441.19" y1="532.79" x2="1458.79" y2="532.79" stroke="#111111" stroke-width="3.6"/>
<circle cx="1449.99" cy="472.18" r="3.9" fill="#111111"/>
<circle cx="1449.99" cy="475.21" r="3.9" fill="#111111"/>
<circle cx="1449.99" cy="498.55" r="3.9" fill="#111111"/>
<circle cx="1449.99" cy="505.52" r="3.9" fill="#111111"/>
<line x1="1469.39" y1="279.15" x2="1469.39" y2="328.24" stroke="#111111" stroke-width="1.7"/>
<line x1="1469.39" y1="373.7" x2="1469.39" y2="426.12" stroke="#111111" stroke-width="1.7"/>
<rect x="1460.59" y="328.24" width="17.6" height="45.45" fill="#f0fe62" stroke="#111111" stroke-width="1.8"/>
<line x1="1460.59" y1="350.97" x2="1478.19" y2="350.97" stroke="#111111" stroke-width="3.6"/>
<line x1="1501.33" y1="502.48" x2="1501.33" y2="522.79" stroke="#111111" stroke-width="1.7"/>
<line x1="1501.33" y1="535.82" x2="1501.33" y2="537.94" stroke="#111111" stroke-width="1.7"/>
<rect x="1492.53" y="522.79" width="17.6" height="13.03" fill="#9ad4fe" stroke="#111111" stroke-width="1.8"/>
<line x1="1492.53" y1="529.76" x2="1510.13" y2="529.76" stroke="#111111" stroke-width="3.6"/>
<circle cx="1501.33" cy="490.36" r="3.9" fill="#111111"/>
<circle cx="1501.33" cy="492.79" r="3.9" fill="#111111"/>
<circle cx="1501.33" cy="495.52" r="3.9" fill="#111111"/>
<line x1="1520.73" y1="294.91" x2="1520.73" y2="346.42" stroke="#111111" stroke-width="1.7"/>
<line x1="1520.73" y1="384.3" x2="1520.73" y2="426.12" stroke="#111111" stroke-width="1.7"/>
<rect x="1511.93" y="346.42" width="17.6" height="37.88" fill="#f0fe62" stroke="#111111" stroke-width="1.8"/>
<line x1="1511.93" y1="371.27" x2="1529.53" y2="371.27" stroke="#111111" stroke-width="3.6"/>
<line x1="1552.67" y1="491.88" x2="1552.67" y2="512.48" stroke="#111111" stroke-width="1.7"/>
<line x1="1552.67" y1="528.24" x2="1552.67" y2="537.94" stroke="#111111" stroke-width="1.7"/>
<rect x="1543.87" y="512.48" width="17.6" height="15.76" fill="#9ad4fe" stroke="#111111" stroke-width="1.8"/>
<line x1="1543.87" y1="522.79" x2="1561.47" y2="522.79" stroke="#111111" stroke-width="3.6"/>
<circle cx="1552.67" cy="479.15" r="3.9" fill="#111111"/>
<circle cx="1552.67" cy="410.06" r="3.9" fill="#111111"/>
<line x1="1572.07" y1="326.73" x2="1572.07" y2="381.27" stroke="#111111" stroke-width="1.7"/>
<line x1="1572.07" y1="419.15" x2="1572.07" y2="461.58" stroke="#111111" stroke-width="1.7"/>
<rect x="1563.27" y="381.27" width="17.6" height="37.88" fill="#f0fe62" stroke="#111111" stroke-width="1.8"/>
<line x1="1563.27" y1="404.61" x2="1580.87" y2="404.61" stroke="#111111" stroke-width="3.6"/>
<circle cx="1572.07" cy="321.27" r="3.9" fill="#111111"/>
<line x1="1604.01" y1="481.88" x2="1604.01" y2="510.06" stroke="#111111" stroke-width="1.7"/>
<line x1="1604.01" y1="531.27" x2="1604.01" y2="537.94" stroke="#111111" stroke-width="1.7"/>
<rect x="1595.21" y="510.06" width="17.6" height="21.21" fill="#9ad4fe" stroke="#111111" stroke-width="1.8"/>
<line x1="1595.21" y1="521.58" x2="1612.81" y2="521.58" stroke="#111111" stroke-width="3.6"/>
<circle cx="1604.01" cy="470.97" r="3.9" fill="#111111"/>
<line x1="1623.41" y1="328.85" x2="1623.41" y2="374.3" stroke="#111111" stroke-width="1.7"/>
<line x1="1623.41" y1="407.03" x2="1623.41" y2="431.27" stroke="#111111" stroke-width="1.7"/>
<rect x="1614.61" y="374.3" width="17.6" height="32.73" fill="#f0fe62" stroke="#111111" stroke-width="1.8"/>
<line x1="1614.61" y1="388.24" x2="1632.21" y2="388.24" stroke="#111111" stroke-width="3.6"/>
<circle cx="1623.41" cy="315.21" r="3.9" fill="#111111"/>
<line x1="1655.35" y1="482.79" x2="1655.35" y2="509.45" stroke="#111111" stroke-width="1.7"/>
<line x1="1655.35" y1="529.15" x2="1655.35" y2="537.94" stroke="#111111" stroke-width="1.7"/>
<rect x="1646.55" y="509.45" width="17.6" height="19.7" fill="#9ad4fe" stroke="#111111" stroke-width="1.8"/>
<line x1="1646.55" y1="519.15" x2="1664.15" y2="519.15" stroke="#111111" stroke-width="3.6"/>
<circle cx="1655.35" cy="466.73" r="3.9" fill="#111111"/>
<circle cx="1655.35" cy="474.61" r="3.9" fill="#111111"/>
<circle cx="1655.35" cy="478.24" r="3.9" fill="#111111"/>
<circle cx="1655.35" cy="340.36" r="3.9" fill="#111111"/>
<circle cx="1655.35" cy="416.73" r="3.9" fill="#111111"/>
<line x1="1674.75" y1="319.15" x2="1674.75" y2="369.76" stroke="#111111" stroke-width="1.7"/>
<line x1="1674.75" y1="407.03" x2="1674.75" y2="449.45" stroke="#111111" stroke-width="1.7"/>
<rect x="1665.95" y="369.76" width="17.6" height="37.27" fill="#f0fe62" stroke="#111111" stroke-width="1.8"/>
<line x1="1665.95" y1="388.24" x2="1683.55" y2="388.24" stroke="#111111" stroke-width="3.6"/>
<circle cx="1674.75" cy="257.03" r="3.9" fill="#111111"/>
<circle cx="1674.75" cy="291.27" r="3.9" fill="#111111"/>
<circle cx="1674.75" cy="294.91" r="3.9" fill="#111111"/>
<circle cx="1674.75" cy="297.94" r="3.9" fill="#111111"/>
<circle cx="1674.75" cy="310.06" r="3.9" fill="#111111"/>
<circle cx="1674.75" cy="313.09" r="3.9" fill="#111111"/>
<line x1="1706.69" y1="443.39" x2="1706.69" y2="480.67" stroke="#111111" stroke-width="1.7"/>
<line x1="1706.69" y1="513.09" x2="1706.69" y2="531.88" stroke="#111111" stroke-width="1.7"/>
<rect x="1697.89" y="480.67" width="17.6" height="32.42" fill="#9ad4fe" stroke="#111111" stroke-width="1.8"/>
<line x1="1697.89" y1="500.06" x2="1715.49" y2="500.06" stroke="#111111" stroke-width="3.6"/>
<circle cx="1706.69" cy="424.3" r="3.9" fill="#111111"/>
<circle cx="1706.69" cy="432.79" r="3.9" fill="#111111"/>
<line x1="1726.09" y1="329.76" x2="1726.09" y2="364" stroke="#111111" stroke-width="1.7"/>
<line x1="1726.09" y1="388.24" x2="1726.09" y2="422.18" stroke="#111111" stroke-width="1.7"/>
<rect x="1717.29" y="364" width="17.6" height="24.24" fill="#f0fe62" stroke="#111111" stroke-width="1.8"/>
<line x1="1717.29" y1="373.09" x2="1734.89" y2="373.09" stroke="#111111" stroke-width="3.6"/>
<circle cx="1726.09" cy="281.27" r="3.9" fill="#111111"/>
<circle cx="1726.09" cy="311.58" r="3.9" fill="#111111"/>
<circle cx="1726.09" cy="423.7" r="3.9" fill="#111111"/>
<circle cx="1726.09" cy="425.82" r="3.9" fill="#111111"/>
<circle cx="1726.09" cy="446.42" r="3.9" fill="#111111"/>
<line x1="1758.03" y1="390.36" x2="1758.03" y2="454.61" stroke="#111111" stroke-width="1.7"/>
<line x1="1758.03" y1="497.94" x2="1758.03" y2="536.42" stroke="#111111" stroke-width="1.7"/>
<rect x="1749.23" y="454.61" width="17.6" height="43.33" fill="#9ad4fe" stroke="#111111" stroke-width="1.8"/>
<line x1="1749.23" y1="476.73" x2="1766.83" y2="476.73" stroke="#111111" stroke-width="3.6"/>
<circle cx="1758.03" cy="307.03" r="3.9" fill="#111111"/>
<circle cx="1758.03" cy="340.36" r="3.9" fill="#111111"/>
<circle cx="1758.03" cy="348.55" r="3.9" fill="#111111"/>
<line x1="1777.43" y1="317.03" x2="1777.43" y2="353.09" stroke="#111111" stroke-width="1.7"/>
<line x1="1777.43" y1="378.85" x2="1777.43" y2="410.67" stroke="#111111" stroke-width="1.7"/>
<rect x="1768.63" y="353.09" width="17.6" height="25.76" fill="#f0fe62" stroke="#111111" stroke-width="1.8"/>
<line x1="1768.63" y1="363.7" x2="1786.23" y2="363.7" stroke="#111111" stroke-width="3.6"/>
<circle cx="1777.43" cy="276.12" r="3.9" fill="#111111"/>
<circle cx="1777.43" cy="297.33" r="3.9" fill="#111111"/>
<circle cx="1777.43" cy="425.21" r="3.9" fill="#111111"/>
<line x1="1809.37" y1="367.64" x2="1809.37" y2="449.45" stroke="#111111" stroke-width="1.7"/>
<line x1="1809.37" y1="503.09" x2="1809.37" y2="534.3" stroke="#111111" stroke-width="1.7"/>
<rect x="1800.57" y="449.45" width="17.6" height="53.64" fill="#9ad4fe" stroke="#111111" stroke-width="1.8"/>
<line x1="1800.57" y1="484.3" x2="1818.17" y2="484.3" stroke="#111111" stroke-width="3.6"/>
<circle cx="1809.37" cy="332.79" r="3.9" fill="#111111"/>
<line x1="1828.77" y1="270.06" x2="1828.77" y2="317.64" stroke="#111111" stroke-width="1.7"/>
<line x1="1828.77" y1="359.15" x2="1828.77" y2="413.09" stroke="#111111" stroke-width="1.7"/>
<rect x="1819.97" y="317.64" width="17.6" height="41.52" fill="#f0fe62" stroke="#111111" stroke-width="1.8"/>
<line x1="1819.97" y1="338.85" x2="1837.57" y2="338.85" stroke="#111111" stroke-width="3.6"/>
<line x1="1860.71" y1="390.97" x2="1860.71" y2="460.06" stroke="#111111" stroke-width="1.7"/>
<line x1="1860.71" y1="516.12" x2="1860.71" y2="537.94" stroke="#111111" stroke-width="1.7"/>
<rect x="1851.91" y="460.06" width="17.6" height="56.06" fill="#9ad4fe" stroke="#111111" stroke-width="1.8"/>
<line x1="1851.91" y1="492.48" x2="1869.51" y2="492.48" stroke="#111111" stroke-width="3.6"/>
<line x1="1880.11" y1="267.03" x2="1880.11" y2="310.97" stroke="#111111" stroke-width="1.7"/>
<line x1="1880.11" y1="342.48" x2="1880.11" y2="379.76" stroke="#111111" stroke-width="1.7"/>
<rect x="1871.31" y="310.97" width="17.6" height="31.52" fill="#f0fe62" stroke="#111111" stroke-width="1.8"/>
<line x1="1871.31" y1="326.12" x2="1888.91" y2="326.12" stroke="#111111" stroke-width="3.6"/>
<circle cx="1880.11" cy="242.48" r="3.9" fill="#111111"/>
<circle cx="1880.11" cy="397.94" r="3.9" fill="#111111"/>
<line x1="1912.05" y1="482.18" x2="1912.05" y2="506.12" stroke="#111111" stroke-width="1.7"/>
<line x1="1912.05" y1="522.79" x2="1912.05" y2="537.94" stroke="#111111" stroke-width="1.7"/>
<rect x="1903.25" y="506.12" width="17.6" height="16.67" fill="#9ad4fe" stroke="#111111" stroke-width="1.8"/>
<line x1="1903.25" y1="514" x2="1920.85" y2="514" stroke="#111111" stroke-width="3.6"/>
<circle cx="1912.05" cy="357.03" r="3.9" fill="#111111"/>
<circle cx="1912.05" cy="426.12" r="3.9" fill="#111111"/>
<circle cx="1912.05" cy="447.03" r="3.9" fill="#111111"/>
<line x1="1931.45" y1="260.97" x2="1931.45" y2="301.58" stroke="#111111" stroke-width="1.7"/>
<line x1="1931.45" y1="329.15" x2="1931.45" y2="363.7" stroke="#111111" stroke-width="1.7"/>
<rect x="1922.65" y="301.58" width="17.6" height="27.58" fill="#f0fe62" stroke="#111111" stroke-width="1.8"/>
<line x1="1922.65" y1="314.61" x2="1940.25" y2="314.61" stroke="#111111" stroke-width="3.6"/>
<circle cx="1931.45" cy="245.52" r="3.9" fill="#111111"/>
<circle cx="1931.45" cy="373.7" r="3.9" fill="#111111"/>
<circle cx="1931.45" cy="481.88" r="3.9" fill="#111111"/>
<rect x="96.8" y="6.4" width="129.63" height="556.5" fill="rgb(170,170,170)" fill-opacity="0.26"/>
<rect x="637.35" y="6.4" width="205.16" height="556.5" fill="rgb(170,170,170)" fill-opacity="0.26"/>
<rect x="1253.43" y="6.4" width="205.16" height="556.5" fill="rgb(170,170,170)" fill-opacity="0.26"/>
<rect x="1869.51" y="6.4" width="81.49" height="556.5" fill="rgb(170,170,170)" fill-opacity="0.26"/>
<rect x="94.2" y="4.2" width="1857.8" height="559.5" fill="none" stroke="#111" stroke-width="1.9"/>
<line x1="86.3" y1="539" x2="94.2" y2="539" stroke="#111" stroke-width="2.3"/>
<text x="80.2" y="547.6" font-size="22" fill="#262626" text-anchor="end">0</text>
<line x1="86.3" y1="403.5" x2="94.2" y2="403.5" stroke="#111" stroke-width="2.3"/>
<text x="80.2" y="412.1" font-size="22" fill="#262626" text-anchor="end">50</text>
<line x1="86.3" y1="268" x2="94.2" y2="268" stroke="#111" stroke-width="2.3"/>
<text x="80.2" y="276.6" font-size="22" fill="#262626" text-anchor="end">100</text>
<line x1="86.3" y1="132.5" x2="94.2" y2="132.5" stroke="#111" stroke-width="2.3"/>
<text x="80.2" y="141.1" font-size="22" fill="#262626" text-anchor="end">150</text>
</g>
<g>
<rect x="94.2" y="580.2" width="1857.8" height="559.5" fill="#fff"/>
<line x1="94.2" y1="1047.05" x2="1952" y2="1047.05" stroke="#ebebeb" stroke-width="1.1"/>
<line x1="94.2" y1="911.55" x2="1952" y2="911.55" stroke="#ebebeb" stroke-width="1.1"/>
<line x1="94.2" y1="776.05" x2="1952" y2="776.05" stroke="#ebebeb" stroke-width="1.1"/>
<line x1="94.2" y1="640.55" x2="1952" y2="640.55" stroke="#ebebeb" stroke-width="1.1"/>
<line x1="94.2" y1="1114.8" x2="1952" y2="1114.8" stroke="#ebebeb" stroke-width="2.2"/>
<line x1="94.2" y1="979.3" x2="1952" y2="979.3" stroke="#ebebeb" stroke-width="2.2"/>
<line x1="94.2" y1="843.8" x2="1952" y2="843.8" stroke="#ebebeb" stroke-width="2.2"/>
<line x1="94.2" y1="708.3" x2="1952" y2="708.3" stroke="#ebebeb" stroke-width="2.2"/>
<line x1="124.85" y1="580.2" x2="124.85" y2="1139.7" stroke="#ebebeb" stroke-width="2.2"/>
<line x1="176.19" y1="580.2" x2="176.19" y2="1139.7" stroke="#ebebeb" stroke-width="2.2"/>
<line x1="227.53" y1="580.2" x2="227.53" y2="1139.7" stroke="#ebebeb" stroke-width="2.2"/>
<line x1="278.87" y1="580.2" x2="278.87" y2="1139.7" stroke="#ebebeb" stroke-width="2.2"/>
<line x1="330.21" y1="580.2" x2="330.21" y2="1139.7" stroke="#ebebeb" stroke-width="2.2"/>
<line x1="381.55" y1="580.2" x2="381.55" y2="1139.7" stroke="#ebebeb" stroke-width="2.2"/>
<line x1="432.89" y1="580.2" x2="432.89" y2="1139.7" stroke="#ebebeb" stroke-width="2.2"/>
<line x1="484.23" y1="580.2" x2="484.23" y2="1139.7" stroke="#ebebeb" stroke-width="2.2"/>
<line x1="535.57" y1="580.2" x2="535.57" y2="1139.7" stroke="#ebebeb" stroke-width="2.2"/>
<line x1="586.91" y1="580.2" x2="586.91" y2="1139.7" stroke="#ebebeb" stroke-width="2.2"/>
<line x1="638.25" y1="580.2" x2="638.25" y2="1139.7" stroke="#ebebeb" stroke-width="2.2"/>
<line x1="689.59" y1="580.2" x2="689.59" y2="1139.7" stroke="#ebebeb" stroke-width="2.2"/>
<line x1="740.93" y1="580.2" x2="740.93" y2="1139.7" stroke="#ebebeb" stroke-width="2.2"/>
<line x1="792.27" y1="580.2" x2="792.27" y2="1139.7" stroke="#ebebeb" stroke-width="2.2"/>
<line x1="843.61" y1="580.2" x2="843.61" y2="1139.7" stroke="#ebebeb" stroke-width="2.2"/>
<line x1="894.95" y1="580.2" x2="894.95" y2="1139.7" stroke="#ebebeb" stroke-width="2.2"/>
<line x1="946.29" y1="580.2" x2="946.29" y2="1139.7" stroke="#ebebeb" stroke-width="2.2"/>
<line x1="997.63" y1="580.2" x2="997.63" y2="1139.7" stroke="#ebebeb" stroke-width="2.2"/>
<line x1="1048.97" y1="580.2" x2="1048.97" y2="1139.7" stroke="#ebebeb" stroke-width="2.2"/>
<line x1="1100.31" y1="580.2" x2="1100.31" y2="1139.7" stroke="#ebebeb" stroke-width="2.2"/>
<line x1="1151.65" y1="580.2" x2="1151.65" y2="1139.7" stroke="#ebebeb" stroke-width="2.2"/>
<line x1="1202.99" y1="580.2" x2="1202.99" y2="1139.7" stroke="#ebebeb" stroke-width="2.2"/>
<line x1="1254.33" y1="580.2" x2="1254.33" y2="1139.7" stroke="#ebebeb" stroke-width="2.2"/>
<line x1="1305.67" y1="580.2" x2="1305.67" y2="1139.7" stroke="#ebebeb" stroke-width="2.2"/>
<line x1="1357.01" y1="580.2" x2="1357.01" y2="1139.7" stroke="#ebebeb" stroke-width="2.2"/>
<line x1="1408.35" y1="580.2" x2="1408.35" y2="1139.7" stroke="#ebebeb" stroke-width="2.2"/>
<line x1="1459.69" y1="580.2" x2="1459.69" y2="1139.7" stroke="#ebebeb" stroke-width="2.2"/>
<line x1="1511.03" y1="580.2" x2="1511.03" y2="1139.7" stroke="#ebebeb" stroke-width="2.2"/>
<line x1="1562.37" y1="580.2" x2="1562.37" y2="1139.7" stroke="#ebebeb" stroke-width="2.2"/>
<line x1="1613.71" y1="580.2" x2="1613.71" y2="1139.7" stroke="#ebebeb" stroke-width="2.2"/>
<line x1="1665.05" y1="580.2" x2="1665.05" y2="1139.7" stroke="#ebebeb" stroke-width="2.2"/>
<line x1="1716.39" y1="580.2" x2="1716.39" y2="1139.7" stroke="#ebebeb" stroke-width="2.2"/>
<line x1="1767.73" y1="580.2" x2="1767.73" y2="1139.7" stroke="#ebebeb" stroke-width="2.2"/>
<line x1="1819.07" y1="580.2" x2="1819.07" y2="1139.7" stroke="#ebebeb" stroke-width="2.2"/>
<line x1="1870.41" y1="580.2" x2="1870.41" y2="1139.7" stroke="#ebebeb" stroke-width="2.2"/>
<line x1="1921.75" y1="580.2" x2="1921.75" y2="1139.7" stroke="#ebebeb" stroke-width="2.2"/>
<line x1="115.15" y1="1080" x2="115.15" y2="1086.97" stroke="#111111" stroke-width="1.7"/>
<line x1="115.15" y1="1107.88" x2="115.15" y2="1113.94" stroke="#111111" stroke-width="1.7"/>
<rect x="106.35" y="1086.97" width="17.6" height="20.91" fill="#9ad4fe" stroke="#111111" stroke-width="1.8"/>
<line x1="106.35" y1="1099.7" x2="123.95" y2="1099.7" stroke="#111111" stroke-width="3.6"/>
<circle cx="115.15" cy="1014.85" r="3.9" fill="#111111"/>
<line x1="134.55" y1="742.12" x2="134.55" y2="857.88" stroke="#111111" stroke-width="1.7"/>
<line x1="134.55" y1="1013.33" x2="134.55" y2="1050.61" stroke="#111111" stroke-width="1.7"/>
<rect x="125.75" y="857.88" width="17.6" height="155.45" fill="#f0fe62" stroke="#111111" stroke-width="1.8"/>
<line x1="125.75" y1="948.79" x2="143.35" y2="948.79" stroke="#111111" stroke-width="3.6"/>
<line x1="166.49" y1="1077.88" x2="166.49" y2="1089.7" stroke="#111111" stroke-width="1.7"/>
<line x1="166.49" y1="1104.24" x2="166.49" y2="1113.94" stroke="#111111" stroke-width="1.7"/>
<rect x="157.69" y="1089.7" width="17.6" height="14.55" fill="#9ad4fe" stroke="#111111" stroke-width="1.8"/>
<line x1="157.69" y1="1095.15" x2="175.29" y2="1095.15" stroke="#111111" stroke-width="3.6"/>
<line x1="185.89" y1="847.27" x2="185.89" y2="896.67" stroke="#111111" stroke-width="1.7"/>
<line x1="185.89" y1="973.03" x2="185.89" y2="1008.18" stroke="#111111" stroke-width="1.7"/>
<rect x="177.09" y="896.67" width="17.6" height="76.36" fill="#f0fe62" stroke="#111111" stroke-width="1.8"/>
<line x1="177.09" y1="915.45" x2="194.69" y2="915.45" stroke="#111111" stroke-width="3.6"/>
<line x1="217.83" y1="1050.3" x2="217.83" y2="1081.52" stroke="#111111" stroke-width="1.7"/>
<line x1="217.83" y1="1106.36" x2="217.83" y2="1113.94" stroke="#111111" stroke-width="1.7"/>
<rect x="209.03" y="1081.52" width="17.6" height="24.85" fill="#9ad4fe" stroke="#111111" stroke-width="1.8"/>
<line x1="209.03" y1="1094.24" x2="226.63" y2="1094.24" stroke="#111111" stroke-width="3.6"/>
<circle cx="217.83" cy="1026.97" r="3.9" fill="#111111"/>
<circle cx="217.83" cy="1031.52" r="3.9" fill="#111111"/>
<line x1="237.23" y1="865.76" x2="237.23" y2="938.48" stroke="#111111" stroke-width="1.7"/>
<line x1="237.23" y1="1065.76" x2="237.23" y2="1105.76" stroke="#111111" stroke-width="1.7"/>
<rect x="228.43" y="938.48" width="17.6" height="127.27" fill="#f0fe62" stroke="#111111" stroke-width="1.8"/>
<line x1="228.43" y1="970.91" x2="246.03" y2="970.91" stroke="#111111" stroke-width="3.6"/>
<line x1="269.17" y1="1026.06" x2="269.17" y2="1060.91" stroke="#111111" stroke-width="1.7"/>
<line x1="269.17" y1="1095.76" x2="269.17" y2="1113.94" stroke="#111111" stroke-width="1.7"/>
<rect x="260.37" y="1060.91" width="17.6" height="34.85" fill="#9ad4fe" stroke="#111111" stroke-width="1.8"/>
<line x1="260.37" y1="1077.88" x2="277.97" y2="1077.88" stroke="#111111" stroke-width="3.6"/>
<line x1="288.57" y1="912.73" x2="288.57" y2="970.91" stroke="#111111" stroke-width="1.7"/>
<line x1="288.57" y1="1020.91" x2="288.57" y2="1050.61" stroke="#111111" stroke-width="1.7"/>
<rect x="279.77" y="970.91" width="17.6" height="50" fill="#f0fe62" stroke="#111111" stroke-width="1.8"/>
<line x1="279.77" y1="987.58" x2="297.37" y2="987.58" stroke="#111111" stroke-width="3.6"/>
<circle cx="288.57" cy="874.55" r="3.9" fill="#111111"/>
<line x1="320.51" y1="1076.06" x2="320.51" y2="1090.61" stroke="#111111" stroke-width="1.7"/>
<line x1="320.51" y1="1105.15" x2="320.51" y2="1113.94" stroke="#111111" stroke-width="1.7"/>
<rect x="311.71" y="1090.61" width="17.6" height="14.55" fill="#9ad4fe" stroke="#111111" stroke-width="1.8"/>
<line x1="311.71" y1="1095.15" x2="329.31" y2="1095.15" stroke="#111111" stroke-width="3.6"/>
<circle cx="320.51" cy="1055.15" r="3.9" fill="#111111"/>
<circle cx="320.51" cy="1058.79" r="3.9" fill="#111111"/>
<circle cx="320.51" cy="1063.33" r="3.9" fill="#111111"/>
<line x1="339.91" y1="857.88" x2="339.91" y2="932.12" stroke="#111111" stroke-width="1.7"/>
<line x1="339.91" y1="994.24" x2="339.91" y2="1032.12" stroke="#111111" stroke-width="1.7"/>
<rect x="331.11" y="932.12" width="17.6" height="62.12" fill="#f0fe62" stroke="#111111" stroke-width="1.8"/>
<line x1="331.11" y1="965.45" x2="348.71" y2="965.45" stroke="#111111" stroke-width="3.6"/>
<circle cx="339.91" cy="680.91" r="3.9" fill="#111111"/>
<circle cx="339.91" cy="746.06" r="3.9" fill="#111111"/>
<circle cx="339.91" cy="798.79" r="3.9" fill="#111111"/>
<circle cx="339.91" cy="813.33" r="3.9" fill="#111111"/>
<circle cx="339.91" cy="1113.94" r="3.9" fill="#111111"/>
<line x1="371.85" y1="1074.55" x2="371.85" y2="1090" stroke="#111111" stroke-width="1.7"/>
<line x1="371.85" y1="1103.33" x2="371.85" y2="1112.42" stroke="#111111" stroke-width="1.7"/>
<rect x="363.05" y="1090" width="17.6" height="13.33" fill="#9ad4fe" stroke="#111111" stroke-width="1.8"/>
<line x1="363.05" y1="1095.15" x2="380.65" y2="1095.15" stroke="#111111" stroke-width="3.6"/>
<circle cx="371.85" cy="1034.55" r="3.9" fill="#111111"/>
<circle cx="371.85" cy="1041.21" r="3.9" fill="#111111"/>
<circle cx="371.85" cy="1069.39" r="3.9" fill="#111111"/>
<line x1="391.25" y1="812.73" x2="391.25" y2="892.12" stroke="#111111" stroke-width="1.7"/>
<line x1="391.25" y1="967.88" x2="391.25" y2="1012.73" stroke="#111111" stroke-width="1.7"/>
<rect x="382.45" y="892.12" width="17.6" height="75.76" fill="#f0fe62" stroke="#111111" stroke-width="1.8"/>
<line x1="382.45" y1="932.42" x2="400.05" y2="932.42" stroke="#111111" stroke-width="3.6"/>
<circle cx="391.25" cy="762.42" r="3.9" fill="#111111"/>
<line x1="423.19" y1="1006.36" x2="423.19" y2="1044.55" stroke="#111111" stroke-width="1.7"/>
<line x1="423.19" y1="1080" x2="423.19" y2="1100.3" stroke="#111111" stroke-width="1.7"/>
<rect x="414.39" y="1044.55" width="17.6" height="35.45" fill="#9ad4fe" stroke="#111111" stroke-width="1.8"/>
<line x1="414.39" y1="1062.73" x2="431.99" y2="1062.73" stroke="#111111" stroke-width="3.6"/>
<line x1="442.59" y1="833.03" x2="442.59" y2="890" stroke="#111111" stroke-width="1.7"/>
<line x1="442.59" y1="930.91" x2="442.59" y2="974.55" stroke="#111111" stroke-width="1.7"/>
<rect x="433.79" y="890" width="17.6" height="40.91" fill="#f0fe62" stroke="#111111" stroke-width="1.8"/>
<line x1="433.79" y1="914.24" x2="451.39" y2="914.24" stroke="#111111" stroke-width="3.6"/>
<circle cx="442.59" cy="996.06" r="3.9" fill="#111111"/>
<line x1="474.53" y1="923.94" x2="474.53" y2="995.15" stroke="#111111" stroke-width="1.7"/>
<line x1="474.53" y1="1064.24" x2="474.53" y2="1111.82" stroke="#111111" stroke-width="1.7"/>
<rect x="465.73" y="995.15" width="17.6" height="69.09" fill="#9ad4fe" stroke="#111111" stroke-width="1.8"/>
<line x1="465.73" y1="1033.03" x2="483.33" y2="1033.03" stroke="#111111" stroke-width="3.6"/>
<line x1="493.93" y1="830.61" x2="493.93" y2="897.27" stroke="#111111" stroke-width="1.7"/>
<line x1="493.93" y1="944.55" x2="493.93" y2="1003.33" stroke="#111111" stroke-width="1.7"/>
<rect x="485.13" y="897.27" width="17.6" height="47.27" fill="#f0fe62" stroke="#111111" stroke-width="1.8"/>
<line x1="485.13" y1="914.85" x2="502.73" y2="914.85" stroke="#111111" stroke-width="3.6"/>
<circle cx="493.93" cy="742.73" r="3.9" fill="#111111"/>
<line x1="525.87" y1="856.36" x2="525.87" y2="945.76" stroke="#111111" stroke-width="1.7"/>
<line x1="525.87" y1="1016.36" x2="525.87" y2="1096.67" stroke="#111111" stroke-width="1.7"/>
<rect x="517.07" y="945.76" width="17.6" height="70.61" fill="#9ad4fe" stroke="#111111" stroke-width="1.8"/>
<line x1="517.07" y1="1003.33" x2="534.67" y2="1003.33" stroke="#111111" stroke-width="3.6"/>
<line x1="545.27" y1="807.88" x2="545.27" y2="856.36" stroke="#111111" stroke-width="1.7"/>
<line x1="545.27" y1="900.3" x2="545.27" y2="939.09" stroke="#111111" stroke-width="1.7"/>
<rect x="536.47" y="856.36" width="17.6" height="43.94" fill="#f0fe62" stroke="#111111" stroke-width="1.8"/>
<line x1="536.47" y1="880.61" x2="554.07" y2="880.61" stroke="#111111" stroke-width="3.6"/>
<circle cx="545.27" cy="979.09" r="3.9" fill="#111111"/>
<line x1="577.21" y1="814.24" x2="577.21" y2="889.09" stroke="#111111" stroke-width="1.7"/>
<line x1="577.21" y1="955.76" x2="577.21" y2="994.24" stroke="#111111" stroke-width="1.7"/>
<rect x="568.41" y="889.09" width="17.6" height="66.67" fill="#9ad4fe" stroke="#111111" stroke-width="1.8"/>
<line x1="568.41" y1="923.33" x2="586.01" y2="923.33" stroke="#111111" stroke-width="3.6"/>
<line x1="596.61" y1="839.7" x2="596.61" y2="882.12" stroke="#111111" stroke-width="1.7"/>
<line x1="596.61" y1="927.58" x2="596.61" y2="983.64" stroke="#111111" stroke-width="1.7"/>
<rect x="587.81" y="882.12" width="17.6" height="45.45" fill="#f0fe62" stroke="#111111" stroke-width="1.8"/>
<line x1="587.81" y1="904.85" x2="605.41" y2="904.85" stroke="#111111" stroke-width="3.6"/>
<circle cx="596.61" cy="811.82" r="3.9" fill="#111111"/>
<line x1="628.55" y1="871.52" x2="628.55" y2="927.58" stroke="#111111" stroke-width="1.7"/>
<line x1="628.55" y1="1026.06" x2="628.55" y2="1086.97" stroke="#111111" stroke-width="1.7"/>
<rect x="619.75" y="927.58" width="17.6" height="98.48" fill="#9ad4fe" stroke="#111111" stroke-width="1.8"/>
<line x1="619.75" y1="970" x2="637.35" y2="970" stroke="#111111" stroke-width="3.6"/>
<line x1="647.95" y1="826.06" x2="647.95" y2="882.42" stroke="#111111" stroke-width="1.7"/>
<line x1="647.95" y1="943.64" x2="647.95" y2="975.45" stroke="#111111" stroke-width="1.7"/>
<rect x="639.15" y="882.42" width="17.6" height="61.21" fill="#f0fe62" stroke="#111111" stroke-width="1.8"/>
<line x1="639.15" y1="913.33" x2="656.75" y2="913.33" stroke="#111111" stroke-width="3.6"/>
<line x1="679.89" y1="941.52" x2="679.89" y2="1023.03" stroke="#111111" stroke-width="1.7"/>
<line x1="679.89" y1="1091.21" x2="679.89" y2="1113.94" stroke="#111111" stroke-width="1.7"/>
<rect x="671.09" y="1023.03" width="17.6" height="68.18" fill="#9ad4fe" stroke="#111111" stroke-width="1.8"/>
<line x1="671.09" y1="1055.15" x2="688.69" y2="1055.15" stroke="#111111" stroke-width="3.6"/>
<line x1="699.29" y1="792.73" x2="699.29" y2="848.18" stroke="#111111" stroke-width="1.7"/>
<line x1="699.29" y1="905.76" x2="699.29" y2="956.67" stroke="#111111" stroke-width="1.7"/>
<rect x="690.49" y="848.18" width="17.6" height="57.58" fill="#f0fe62" stroke="#111111" stroke-width="1.8"/>
<line x1="690.49" y1="873.03" x2="708.09" y2="873.03" stroke="#111111" stroke-width="3.6"/>
<circle cx="699.29" cy="692.73" r="3.9" fill="#111111"/>
<circle cx="699.29" cy="1048.18" r="3.9" fill="#111111"/>
<line x1="731.23" y1="1057.88" x2="731.23" y2="1080" stroke="#111111" stroke-width="1.7"/>
<line x1="731.23" y1="1099.09" x2="731.23" y2="1113.94" stroke="#111111" stroke-width="1.7"/>
<rect x="722.43" y="1080" width="17.6" height="19.09" fill="#9ad4fe" stroke="#111111" stroke-width="1.8"/>
<line x1="722.43" y1="1089.7" x2="740.03" y2="1089.7" stroke="#111111" stroke-width="3.6"/>
<circle cx="731.23" cy="997.58" r="3.9" fill="#111111"/>
<line x1="750.63" y1="794.24" x2="750.63" y2="861.82" stroke="#111111" stroke-width="1.7"/>
<line x1="750.63" y1="914.24" x2="750.63" y2="989.09" stroke="#111111" stroke-width="1.7"/>
<rect x="741.83" y="861.82" width="17.6" height="52.42" fill="#f0fe62" stroke="#111111" stroke-width="1.8"/>
<line x1="741.83" y1="882.12" x2="759.43" y2="882.12" stroke="#111111" stroke-width="3.6"/>
<circle cx="750.63" cy="711.82" r="3.9" fill="#111111"/>
<line x1="782.57" y1="1056.36" x2="782.57" y2="1080.61" stroke="#111111" stroke-width="1.7"/>
<line x1="782.57" y1="1100.3" x2="782.57" y2="1113.94" stroke="#111111" stroke-width="1.7"/>
<rect x="773.77" y="1080.61" width="17.6" height="19.7" fill="#9ad4fe" stroke="#111111" stroke-width="1.8"/>
<line x1="773.77" y1="1090.61" x2="791.37" y2="1090.61" stroke="#111111" stroke-width="3.6"/>
<line x1="801.97" y1="789.7" x2="801.97" y2="839.7" stroke="#111111" stroke-width="1.7"/>
<line x1="801.97" y1="896.06" x2="801.97" y2="929.39" stroke="#111111" stroke-width="1.7"/>
<rect x="793.17" y="839.7" width="17.6" height="56.36" fill="#f0fe62" stroke="#111111" stroke-width="1.8"/>
<line x1="793.17" y1="873.33" x2="810.77" y2="873.33" stroke="#111111" stroke-width="3.6"/>
<circle cx="801.97" cy="1017.27" r="3.9" fill="#111111"/>
<line x1="833.91" y1="1056.67" x2="833.91" y2="1082.42" stroke="#111111" stroke-width="1.7"/>
<line x1="833.91" y1="1103.33" x2="833.91" y2="1113.94" stroke="#111111" stroke-width="1.7"/>
<rect x="825.11" y="1082.42" width="17.6" height="20.91" fill="#9ad4fe" stroke="#111111" stroke-width="1.8"/>
<line x1="825.11" y1="1093.64" x2="842.71" y2="1093.64" stroke="#111111" stroke-width="3.6"/>
<circle cx="833.91" cy="1005.76" r="3.9" fill="#111111"/>
<line x1="853.31" y1="858.79" x2="853.31" y2="913.94" stroke="#111111" stroke-width="1.7"/>
<line x1="853.31" y1="957.88" x2="853.31" y2="1004.24" stroke="#111111" stroke-width="1.7"/>
<rect x="844.51" y="913.94" width="17.6" height="43.94" fill="#f0fe62" stroke="#111111" stroke-width="1.8"/>
<line x1="844.51" y1="932.42" x2="862.11" y2="932.42" stroke="#111111" stroke-width="3.6"/>
<line x1="885.25" y1="1035.15" x2="885.25" y2="1063.33" stroke="#111111" stroke-width="1.7"/>
<line x1="885.25" y1="1098.18" x2="885.25" y2="1113.94" stroke="#111111" stroke-width="1.7"/>
<rect x="876.45" y="1063.33" width="17.6" height="34.85" fill="#9ad4fe" stroke="#111111" stroke-width="1.8"/>
<line x1="876.45" y1="1081.52" x2="894.05" y2="1081.52" stroke="#111111" stroke-width="3.6"/>
<circle cx="885.25" cy="914.85" r="3.9" fill="#111111"/>
<circle cx="885.25" cy="941.21" r="3.9" fill="#111111"/>
<circle cx="885.25" cy="956.67" r="3.9" fill="#111111"/>
<circle cx="885.25" cy="988.48" r="3.9" fill="#111111"/>
<circle cx="885.25" cy="999.09" r="3.9" fill="#111111"/>
<line x1="904.65" y1="907.88" x2="904.65" y2="957.27" stroke="#111111" stroke-width="1.7"/>
<line x1="904.65" y1="994.55" x2="904.65" y2="1048.18" stroke="#111111" stroke-width="1.7"/>
<rect x="895.85" y="957.27" width="17.6" height="37.27" fill="#f0fe62" stroke="#111111" stroke-width="1.8"/>
<line x1="895.85" y1="973.03" x2="913.45" y2="973.03" stroke="#111111" stroke-width="3.6"/>
<circle cx="904.65" cy="880" r="3.9" fill="#111111"/>
<circle cx="904.65" cy="884.55" r="3.9" fill="#111111"/>
<circle cx="904.65" cy="889.7" r="3.9" fill="#111111"/>
<circle cx="904.65" cy="1098.79" r="3.9" fill="#111111"/>
<circle cx="904.65" cy="1103.33" r="3.9" fill="#111111"/>
<circle cx="904.65" cy="1106.67" r="3.9" fill="#111111"/>
<line x1="936.59" y1="1063.94" x2="936.59" y2="1086.06" stroke="#111111" stroke-width="1.7"/>
<line x1="936.59" y1="1105.76" x2="936.59" y2="1113.94" stroke="#111111" stroke-width="1.7"/>
<rect x="927.79" y="1086.06" width="17.6" height="19.7" fill="#9ad4fe" stroke="#111111" stroke-width="1.8"/>
<line x1="927.79" y1="1095.15" x2="945.39" y2="1095.15" stroke="#111111" stroke-width="3.6"/>
<circle cx="936.59" cy="1043.03" r="3.9" fill="#111111"/>
<circle cx="936.59" cy="1055.76" r="3.9" fill="#111111"/>
<line x1="955.99" y1="746.06" x2="955.99" y2="867.88" stroke="#111111" stroke-width="1.7"/>
<line x1="955.99" y1="967.27" x2="955.99" y2="1060.91" stroke="#111111" stroke-width="1.7"/>
<rect x="947.19" y="867.88" width="17.6" height="99.39" fill="#f0fe62" stroke="#111111" stroke-width="1.8"/>
<line x1="947.19" y1="931.52" x2="964.79" y2="931.52" stroke="#111111" stroke-width="3.6"/>
<circle cx="955.99" cy="685.15" r="3.9" fill="#111111"/>
<line x1="987.93" y1="1048.18" x2="987.93" y2="1076.06" stroke="#111111" stroke-width="1.7"/>
<line x1="987.93" y1="1098.18" x2="987.93" y2="1113.94" stroke="#111111" stroke-width="1.7"/>
<rect x="979.13" y="1076.06" width="17.6" height="22.12" fill="#9ad4fe" stroke="#111111" stroke-width="1.8"/>
<line x1="979.13" y1="1086.97" x2="996.73" y2="1086.97" stroke="#111111" stroke-width="3.6"/>
<circle cx="987.93" cy="1033.94" r="3.9" fill="#111111"/>
<circle cx="987.93" cy="1040.61" r="3.9" fill="#111111"/>
<line x1="1007.33" y1="749.09" x2="1007.33" y2="870" stroke="#111111" stroke-width="1.7"/>
<line x1="1007.33" y1="980.61" x2="1007.33" y2="1048.79" stroke="#111111" stroke-width="1.7"/>
<rect x="998.53" y="870" width="17.6" height="110.61" fill="#f0fe62" stroke="#111111" stroke-width="1.8"/>
<line x1="998.53" y1="926.06" x2="1016.13" y2="926.06" stroke="#111111" stroke-width="3.6"/>
<line x1="1039.27" y1="1060.91" x2="1039.27" y2="1080" stroke="#111111" stroke-width="1.7"/>
<line x1="1039.27" y1="1103.33" x2="1039.27" y2="1113.94" stroke="#111111" stroke-width="1.7"/>
<rect x="1030.47" y="1080" width="17.6" height="23.33" fill="#9ad4fe" stroke="#111111" stroke-width="1.8"/>
<line x1="1030.47" y1="1089.7" x2="1048.07" y2="1089.7" stroke="#111111" stroke-width="3.6"/>
<line x1="1058.67" y1="873.33" x2="1058.67" y2="923.33" stroke="#111111" stroke-width="1.7"/>
<line x1="1058.67" y1="988.18" x2="1058.67" y2="1017.27" stroke="#111111" stroke-width="1.7"/>
<rect x="1049.87" y="923.33" width="17.6" height="64.85" fill="#f0fe62" stroke="#111111" stroke-width="1.8"/>
<line x1="1049.87" y1="958.18" x2="1067.47" y2="958.18" stroke="#111111" stroke-width="3.6"/>
<line x1="1090.61" y1="1017.88" x2="1090.61" y2="1059.7" stroke="#111111" stroke-width="1.7"/>
<line x1="1090.61" y1="1093.64" x2="1090.61" y2="1113.94" stroke="#111111" stroke-width="1.7"/>
<rect x="1081.81" y="1059.7" width="17.6" height="33.94" fill="#9ad4fe" stroke="#111111" stroke-width="1.8"/>
<line x1="1081.81" y1="1076.06" x2="1099.41" y2="1076.06" stroke="#111111" stroke-width="3.6"/>
<circle cx="1090.61" cy="963.33" r="3.9" fill="#111111"/>
<circle cx="1090.61" cy="970.91" r="3.9" fill="#111111"/>
<circle cx="1090.61" cy="1004.85" r="3.9" fill="#111111"/>
<line x1="1110.01" y1="879.39" x2="1110.01" y2="933.94" stroke="#111111" stroke-width="1.7"/>
<line x1="1110.01" y1="973.03" x2="1110.01" y2="1007.88" stroke="#111111" stroke-width="1.7"/>
<rect x="1101.21" y="933.94" width="17.6" height="39.09" fill="#f0fe62" stroke="#111111" stroke-width="1.8"/>
<line x1="1101.21" y1="960.91" x2="1118.81" y2="960.91" stroke="#111111" stroke-width="3.6"/>
<line x1="1141.95" y1="862.73" x2="1141.95" y2="947.27" stroke="#111111" stroke-width="1.7"/>
<line x1="1141.95" y1="1013.94" x2="1141.95" y2="1098.79" stroke="#111111" stroke-width="1.7"/>
<rect x="1133.15" y="947.27" width="17.6" height="66.67" fill="#9ad4fe" stroke="#111111" stroke-width="1.8"/>
<line x1="1133.15" y1="986.06" x2="1150.75" y2="986.06" stroke="#111111" stroke-width="3.6"/>
<line x1="1161.35" y1="899.09" x2="1161.35" y2="931.52" stroke="#111111" stroke-width="1.7"/>
<line x1="1161.35" y1="961.21" x2="1161.35" y2="1001.82" stroke="#111111" stroke-width="1.7"/>
<rect x="1152.55" y="931.52" width="17.6" height="29.7" fill="#f0fe62" stroke="#111111" stroke-width="1.8"/>
<line x1="1152.55" y1="944.55" x2="1170.15" y2="944.55" stroke="#111111" stroke-width="3.6"/>
<circle cx="1161.35" cy="852.73" r="3.9" fill="#111111"/>
<circle cx="1161.35" cy="858.18" r="3.9" fill="#111111"/>
<circle cx="1161.35" cy="863.33" r="3.9" fill="#111111"/>
<circle cx="1161.35" cy="867.88" r="3.9" fill="#111111"/>
<circle cx="1161.35" cy="880" r="3.9" fill="#111111"/>
<line x1="1193.29" y1="860.3" x2="1193.29" y2="920.3" stroke="#111111" stroke-width="1.7"/>
<line x1="1193.29" y1="975.45" x2="1193.29" y2="1042.12" stroke="#111111" stroke-width="1.7"/>
<rect x="1184.49" y="920.3" width="17.6" height="55.15" fill="#9ad4fe" stroke="#111111" stroke-width="1.8"/>
<line x1="1184.49" y1="948.18" x2="1202.09" y2="948.18" stroke="#111111" stroke-width="3.6"/>
<circle cx="1193.29" cy="823.94" r="3.9" fill="#111111"/>
<circle cx="1193.29" cy="1091.52" r="3.9" fill="#111111"/>
<circle cx="1193.29" cy="1108.79" r="3.9" fill="#111111"/>
<line x1="1212.69" y1="874.55" x2="1212.69" y2="923.33" stroke="#111111" stroke-width="1.7"/>
<line x1="1212.69" y1="966.36" x2="1212.69" y2="1008.18" stroke="#111111" stroke-width="1.7"/>
<rect x="1203.89" y="923.33" width="17.6" height="43.03" fill="#f0fe62" stroke="#111111" stroke-width="1.8"/>
<line x1="1203.89" y1="940" x2="1221.49" y2="940" stroke="#111111" stroke-width="3.6"/>
<circle cx="1212.69" cy="811.82" r="3.9" fill="#111111"/>
<circle cx="1212.69" cy="848.79" r="3.9" fill="#111111"/>
<line x1="1244.63" y1="865.76" x2="1244.63" y2="959.39" stroke="#111111" stroke-width="1.7"/>
<line x1="1244.63" y1="1027.58" x2="1244.63" y2="1088.18" stroke="#111111" stroke-width="1.7"/>
<rect x="1235.83" y="959.39" width="17.6" height="68.18" fill="#9ad4fe" stroke="#111111" stroke-width="1.8"/>
<line x1="1235.83" y1="994.55" x2="1253.43" y2="994.55" stroke="#111111" stroke-width="3.6"/>
<circle cx="1244.63" cy="852.73" r="3.9" fill="#111111"/>
<line x1="1264.03" y1="865.45" x2="1264.03" y2="931.52" stroke="#111111" stroke-width="1.7"/>
<line x1="1264.03" y1="976.97" x2="1264.03" y2="1030.61" stroke="#111111" stroke-width="1.7"/>
<rect x="1255.23" y="931.52" width="17.6" height="45.45" fill="#f0fe62" stroke="#111111" stroke-width="1.8"/>
<line x1="1255.23" y1="947.58" x2="1272.83" y2="947.58" stroke="#111111" stroke-width="3.6"/>
<line x1="1295.97" y1="987.58" x2="1295.97" y2="1026.06" stroke="#111111" stroke-width="1.7"/>
<line x1="1295.97" y1="1083.64" x2="1295.97" y2="1098.79" stroke="#111111" stroke-width="1.7"/>
<rect x="1287.17" y="1026.06" width="17.6" height="57.58" fill="#9ad4fe" stroke="#111111" stroke-width="1.8"/>
<line x1="1287.17" y1="1060.91" x2="1304.77" y2="1060.91" stroke="#111111" stroke-width="3.6"/>
<line x1="1315.37" y1="893.64" x2="1315.37" y2="933.94" stroke="#111111" stroke-width="1.7"/>
<line x1="1315.37" y1="962.73" x2="1315.37" y2="981.52" stroke="#111111" stroke-width="1.7"/>
<rect x="1306.57" y="933.94" width="17.6" height="28.79" fill="#f0fe62" stroke="#111111" stroke-width="1.8"/>
<line x1="1306.57" y1="948.79" x2="1324.17" y2="948.79" stroke="#111111" stroke-width="3.6"/>
<circle cx="1315.37" cy="1022.42" r="3.9" fill="#111111"/>
<line x1="1347.31" y1="1061.21" x2="1347.31" y2="1084.55" stroke="#111111" stroke-width="1.7"/>
<line x1="1347.31" y1="1106.36" x2="1347.31" y2="1113.94" stroke="#111111" stroke-width="1.7"/>
<rect x="1338.51" y="1084.55" width="17.6" height="21.82" fill="#9ad4fe" stroke="#111111" stroke-width="1.8"/>
<line x1="1338.51" y1="1095.15" x2="1356.11" y2="1095.15" stroke="#111111" stroke-width="3.6"/>
<circle cx="1347.31" cy="1036.67" r="3.9" fill="#111111"/>
<circle cx="1347.31" cy="1049.7" r="3.9" fill="#111111"/>
<line x1="1366.71" y1="863.94" x2="1366.71" y2="912.42" stroke="#111111" stroke-width="1.7"/>
<line x1="1366.71" y1="949.09" x2="1366.71" y2="1001.21" stroke="#111111" stroke-width="1.7"/>
<rect x="1357.91" y="912.42" width="17.6" height="36.67" fill="#f0fe62" stroke="#111111" stroke-width="1.8"/>
<line x1="1357.91" y1="932.12" x2="1375.51" y2="932.12" stroke="#111111" stroke-width="3.6"/>
<circle cx="1366.71" cy="1020.3" r="3.9" fill="#111111"/>
<line x1="1398.65" y1="1068.48" x2="1398.65" y2="1092.12" stroke="#111111" stroke-width="1.7"/>
<line x1="1398.65" y1="1108.79" x2="1398.65" y2="1113.94" stroke="#111111" stroke-width="1.7"/>
<rect x="1389.85" y="1092.12" width="17.6" height="16.67" fill="#9ad4fe" stroke="#111111" stroke-width="1.8"/>
<line x1="1389.85" y1="1103.33" x2="1407.45" y2="1103.33" stroke="#111111" stroke-width="3.6"/>
<circle cx="1398.65" cy="1039.7" r="3.9" fill="#111111"/>
<circle cx="1398.65" cy="1049.7" r="3.9" fill="#111111"/>
<circle cx="1398.65" cy="1054.24" r="3.9" fill="#111111"/>
<line x1="1418.05" y1="856.67" x2="1418.05" y2="905.76" stroke="#111111" stroke-width="1.7"/>
<line x1="1418.05" y1="952.12" x2="1418.05" y2="1000.3" stroke="#111111" stroke-width="1.7"/>
<rect x="1409.25" y="905.76" width="17.6" height="46.36" fill="#f0fe62" stroke="#111111" stroke-width="1.8"/>
<line x1="1409.25" y1="920.91" x2="1426.85" y2="920.91" stroke="#111111" stroke-width="3.6"/>
<circle cx="1418.05" cy="1020" r="3.9" fill="#111111"/>
<circle cx="1418.05" cy="1024.85" r="3.9" fill="#111111"/>
<circle cx="1418.05" cy="1027.88" r="3.9" fill="#111111"/>
<line x1="1449.99" y1="1072.42" x2="1449.99" y2="1084.55" stroke="#111111" stroke-width="1.7"/>
<line x1="1449.99" y1="1094.24" x2="1449.99" y2="1107.27" stroke="#111111" stroke-width="1.7"/>
<rect x="1441.19" y="1084.55" width="17.6" height="9.7" fill="#9ad4fe" stroke="#111111" stroke-width="1.8"/>
<line x1="1441.19" y1="1089.09" x2="1458.79" y2="1089.09" stroke="#111111" stroke-width="3.6"/>
<circle cx="1449.99" cy="1060.3" r="3.9" fill="#111111"/>
<circle cx="1449.99" cy="1064.85" r="3.9" fill="#111111"/>
<circle cx="1449.99" cy="1068.48" r="3.9" fill="#111111"/>
<circle cx="1449.99" cy="1108.79" r="3.9" fill="#111111"/>
<circle cx="1449.99" cy="1112.73" r="3.9" fill="#111111"/>
<circle cx="1449.99" cy="1116.36" r="3.9" fill="#111111"/>
<line x1="1469.39" y1="907.88" x2="1469.39" y2="954.85" stroke="#111111" stroke-width="1.7"/>
<line x1="1469.39" y1="1010.3" x2="1469.39" y2="1053.64" stroke="#111111" stroke-width="1.7"/>
<rect x="1460.59" y="954.85" width="17.6" height="55.45" fill="#f0fe62" stroke="#111111" stroke-width="1.8"/>
<line x1="1460.59" y1="973.03" x2="1478.19" y2="973.03" stroke="#111111" stroke-width="3.6"/>
<line x1="1501.33" y1="1026.06" x2="1501.33" y2="1070" stroke="#111111" stroke-width="1.7"/>
<line x1="1501.33" y1="1102.73" x2="1501.33" y2="1113.94" stroke="#111111" stroke-width="1.7"/>
<rect x="1492.53" y="1070" width="17.6" height="32.73" fill="#9ad4fe" stroke="#111111" stroke-width="1.8"/>
<line x1="1492.53" y1="1089.09" x2="1510.13" y2="1089.09" stroke="#111111" stroke-width="3.6"/>
<circle cx="1501.33" cy="994.24" r="3.9" fill="#111111"/>
<circle cx="1501.33" cy="1020" r="3.9" fill="#111111"/>
<line x1="1520.73" y1="938.48" x2="1520.73" y2="977.88" stroke="#111111" stroke-width="1.7"/>
<line x1="1520.73" y1="1008.79" x2="1520.73" y2="1050.61" stroke="#111111" stroke-width="1.7"/>
<rect x="1511.93" y="977.88" width="17.6" height="30.91" fill="#f0fe62" stroke="#111111" stroke-width="1.8"/>
<line x1="1511.93" y1="995.76" x2="1529.53" y2="995.76" stroke="#111111" stroke-width="3.6"/>
<line x1="1552.67" y1="1078.48" x2="1552.67" y2="1089.7" stroke="#111111" stroke-width="1.7"/>
<line x1="1552.67" y1="1101.21" x2="1552.67" y2="1108.79" stroke="#111111" stroke-width="1.7"/>
<rect x="1543.87" y="1089.7" width="17.6" height="11.52" fill="#9ad4fe" stroke="#111111" stroke-width="1.8"/>
<line x1="1543.87" y1="1095.15" x2="1561.47" y2="1095.15" stroke="#111111" stroke-width="3.6"/>
<line x1="1572.07" y1="805.76" x2="1572.07" y2="930.91" stroke="#111111" stroke-width="1.7"/>
<line x1="1572.07" y1="1020" x2="1572.07" y2="1065.76" stroke="#111111" stroke-width="1.7"/>
<rect x="1563.27" y="930.91" width="17.6" height="89.09" fill="#f0fe62" stroke="#111111" stroke-width="1.8"/>
<line x1="1563.27" y1="980.61" x2="1580.87" y2="980.61" stroke="#111111" stroke-width="3.6"/>
<line x1="1604.01" y1="1071.52" x2="1604.01" y2="1087.58" stroke="#111111" stroke-width="1.7"/>
<line x1="1604.01" y1="1101.82" x2="1604.01" y2="1111.82" stroke="#111111" stroke-width="1.7"/>
<rect x="1595.21" y="1087.58" width="17.6" height="14.24" fill="#9ad4fe" stroke="#111111" stroke-width="1.8"/>
<line x1="1595.21" y1="1095.15" x2="1612.81" y2="1095.15" stroke="#111111" stroke-width="3.6"/>
<circle cx="1604.01" cy="1048.18" r="3.9" fill="#111111"/>
<circle cx="1604.01" cy="1058.79" r="3.9" fill="#111111"/>
<circle cx="1604.01" cy="1063.33" r="3.9" fill="#111111"/>
<line x1="1623.41" y1="807.88" x2="1623.41" y2="885.45" stroke="#111111" stroke-width="1.7"/>
<line x1="1623.41" y1="983.94" x2="1623.41" y2="1053.33" stroke="#111111" stroke-width="1.7"/>
<rect x="1614.61" y="885.45" width="17.6" height="98.48" fill="#f0fe62" stroke="#111111" stroke-width="1.8"/>
<line x1="1614.61" y1="920.91" x2="1632.21" y2="920.91" stroke="#111111" stroke-width="3.6"/>
<line x1="1655.35" y1="1011.82" x2="1655.35" y2="1056.36" stroke="#111111" stroke-width="1.7"/>
<line x1="1655.35" y1="1088.18" x2="1655.35" y2="1113.94" stroke="#111111" stroke-width="1.7"/>
<rect x="1646.55" y="1056.36" width="17.6" height="31.82" fill="#9ad4fe" stroke="#111111" stroke-width="1.8"/>
<line x1="1646.55" y1="1076.97" x2="1664.15" y2="1076.97" stroke="#111111" stroke-width="3.6"/>
<circle cx="1655.35" cy="991.52" r="3.9" fill="#111111"/>
<circle cx="1655.35" cy="1007.88" r="3.9" fill="#111111"/>
<line x1="1674.75" y1="830.61" x2="1674.75" y2="925.45" stroke="#111111" stroke-width="1.7"/>
<line x1="1674.75" y1="991.52" x2="1674.75" y2="1070.91" stroke="#111111" stroke-width="1.7"/>
<rect x="1665.95" y="925.45" width="17.6" height="66.06" fill="#f0fe62" stroke="#111111" stroke-width="1.8"/>
<line x1="1665.95" y1="958.79" x2="1683.55" y2="958.79" stroke="#111111" stroke-width="3.6"/>
<circle cx="1674.75" cy="731.52" r="3.9" fill="#111111"/>
<circle cx="1674.75" cy="824.55" r="3.9" fill="#111111"/>
<line x1="1706.69" y1="966.36" x2="1706.69" y2="1032.12" stroke="#111111" stroke-width="1.7"/>
<line x1="1706.69" y1="1081.52" x2="1706.69" y2="1102.12" stroke="#111111" stroke-width="1.7"/>
<rect x="1697.89" y="1032.12" width="17.6" height="49.39" fill="#9ad4fe" stroke="#111111" stroke-width="1.8"/>
<line x1="1697.89" y1="1054.24" x2="1715.49" y2="1054.24" stroke="#111111" stroke-width="3.6"/>
<circle cx="1706.69" cy="940" r="3.9" fill="#111111"/>
<line x1="1726.09" y1="854.24" x2="1726.09" y2="940" stroke="#111111" stroke-width="1.7"/>
<line x1="1726.09" y1="1018.79" x2="1726.09" y2="1071.52" stroke="#111111" stroke-width="1.7"/>
<rect x="1717.29" y="940" width="17.6" height="78.79" fill="#f0fe62" stroke="#111111" stroke-width="1.8"/>
<line x1="1717.29" y1="982.42" x2="1734.89" y2="982.42" stroke="#111111" stroke-width="3.6"/>
<circle cx="1726.09" cy="783.03" r="3.9" fill="#111111"/>
<line x1="1758.03" y1="840" x2="1758.03" y2="958.79" stroke="#111111" stroke-width="1.7"/>
<line x1="1758.03" y1="1041.52" x2="1758.03" y2="1102.12" stroke="#111111" stroke-width="1.7"/>
<rect x="1749.23" y="958.79" width="17.6" height="82.73" fill="#9ad4fe" stroke="#111111" stroke-width="1.8"/>
<line x1="1749.23" y1="1005.76" x2="1766.83" y2="1005.76" stroke="#111111" stroke-width="3.6"/>
<line x1="1777.43" y1="892.12" x2="1777.43" y2="945.15" stroke="#111111" stroke-width="1.7"/>
<line x1="1777.43" y1="983.03" x2="1777.43" y2="1020.91" stroke="#111111" stroke-width="1.7"/>
<rect x="1768.63" y="945.15" width="17.6" height="37.88" fill="#f0fe62" stroke="#111111" stroke-width="1.8"/>
<line x1="1768.63" y1="965.45" x2="1786.23" y2="965.45" stroke="#111111" stroke-width="3.6"/>
<circle cx="1777.43" cy="864.85" r="3.9" fill="#111111"/>
<circle cx="1777.43" cy="878.48" r="3.9" fill="#111111"/>
<circle cx="1777.43" cy="883.03" r="3.9" fill="#111111"/>
<line x1="1809.37" y1="854.24" x2="1809.37" y2="944.55" stroke="#111111" stroke-width="1.7"/>
<line x1="1809.37" y1="1010.3" x2="1809.37" y2="1061.21" stroke="#111111" stroke-width="1.7"/>
<rect x="1800.57" y="944.55" width="17.6" height="65.76" fill="#9ad4fe" stroke="#111111" stroke-width="1.8"/>
<line x1="1800.57" y1="980" x2="1818.17" y2="980" stroke="#111111" stroke-width="3.6"/>
<circle cx="1809.37" cy="843.03" r="3.9" fill="#111111"/>
<line x1="1828.77" y1="853.33" x2="1828.77" y2="916.36" stroke="#111111" stroke-width="1.7"/>
<line x1="1828.77" y1="973.94" x2="1828.77" y2="1027.58" stroke="#111111" stroke-width="1.7"/>
<rect x="1819.97" y="916.36" width="17.6" height="57.58" fill="#f0fe62" stroke="#111111" stroke-width="1.8"/>
<line x1="1819.97" y1="943.64" x2="1837.57" y2="943.64" stroke="#111111" stroke-width="3.6"/>
<line x1="1860.71" y1="902.73" x2="1860.71" y2="967.88" stroke="#111111" stroke-width="1.7"/>
<line x1="1860.71" y1="1035.45" x2="1860.71" y2="1084.55" stroke="#111111" stroke-width="1.7"/>
<rect x="1851.91" y="967.88" width="17.6" height="67.58" fill="#9ad4fe" stroke="#111111" stroke-width="1.8"/>
<line x1="1851.91" y1="996.67" x2="1869.51" y2="996.67" stroke="#111111" stroke-width="3.6"/>
<circle cx="1860.71" cy="858.79" r="3.9" fill="#111111"/>
<line x1="1880.11" y1="880.91" x2="1880.11" y2="933.03" stroke="#111111" stroke-width="1.7"/>
<line x1="1880.11" y1="970.91" x2="1880.11" y2="1000.3" stroke="#111111" stroke-width="1.7"/>
<rect x="1871.31" y="933.03" width="17.6" height="37.88" fill="#f0fe62" stroke="#111111" stroke-width="1.8"/>
<line x1="1871.31" y1="957.88" x2="1888.91" y2="957.88" stroke="#111111" stroke-width="3.6"/>
<line x1="1912.05" y1="955.76" x2="1912.05" y2="1026.97" stroke="#111111" stroke-width="1.7"/>
<line x1="1912.05" y1="1076.97" x2="1912.05" y2="1113.94" stroke="#111111" stroke-width="1.7"/>
<rect x="1903.25" y="1026.97" width="17.6" height="50" fill="#9ad4fe" stroke="#111111" stroke-width="1.8"/>
<line x1="1903.25" y1="1060.3" x2="1920.85" y2="1060.3" stroke="#111111" stroke-width="3.6"/>
<circle cx="1912.05" cy="893.64" r="3.9" fill="#111111"/>
<circle cx="1912.05" cy="911.21" r="3.9" fill="#111111"/>
<circle cx="1912.05" cy="919.39" r="3.9" fill="#111111"/>
<circle cx="1912.05" cy="944.55" r="3.9" fill="#111111"/>
<line x1="1931.45" y1="855.76" x2="1931.45" y2="923.33" stroke="#111111" stroke-width="1.7"/>
<line x1="1931.45" y1="973.03" x2="1931.45" y2="1004.24" stroke="#111111" stroke-width="1.7"/>
<rect x="1922.65" y="923.33" width="17.6" height="49.7" fill="#f0fe62" stroke="#111111" stroke-width="1.8"/>
<line x1="1922.65" y1="942.12" x2="1940.25" y2="942.12" stroke="#111111" stroke-width="3.6"/>
<circle cx="1931.45" cy="832.12" r="3.9" fill="#111111"/>
<circle cx="1931.45" cy="840.61" r="3.9" fill="#111111"/>
<circle cx="1931.45" cy="1066.97" r="3.9" fill="#111111"/>
<circle cx="1931.45" cy="1073.94" r="3.9" fill="#111111"/>
<circle cx="1931.45" cy="1083.64" r="3.9" fill="#111111"/>
<rect x="96.8" y="582.4" width="180.97" height="556.5" fill="rgb(170,170,170)" fill-opacity="0.26"/>
<rect x="637.35" y="582.4" width="256.5" height="556.5" fill="rgb(170,170,170)" fill-opacity="0.26"/>
<rect x="1253.43" y="582.4" width="256.5" height="556.5" fill="rgb(170,170,170)" fill-opacity="0.26"/>
<rect x="1869.51" y="582.4" width="81.49" height="556.5" fill="rgb(170,170,170)" fill-opacity="0.26"/>
<rect x="94.2" y="580.2" width="1857.8" height="559.5" fill="none" stroke="#111" stroke-width="1.9"/>
<line x1="86.3" y1="1114.8" x2="94.2" y2="1114.8" stroke="#111" stroke-width="2.3"/>
<text x="80.2" y="1123.4" font-size="22" fill="#262626" text-anchor="end">0</text>
<line x1="86.3" y1="979.3" x2="94.2" y2="979.3" stroke="#111" stroke-width="2.3"/>
<text x="80.2" y="987.9" font-size="22" fill="#262626" text-anchor="end">50</text>
<line x1="86.3" y1="843.8" x2="94.2" y2="843.8" stroke="#111" stroke-width="2.3"/>
<text x="80.2" y="852.4" font-size="22" fill="#262626" text-anchor="end">100</text>
<line x1="86.3" y1="708.3" x2="94.2" y2="708.3" stroke="#111" stroke-width="2.3"/>
<text x="80.2" y="716.9" font-size="22" fill="#262626" text-anchor="end">150</text>
</g>
<g>
<rect x="94.2" y="1156.2" width="1857.8" height="559.5" fill="#fff"/>
<line x1="94.2" y1="1622.95" x2="1952" y2="1622.95" stroke="#ebebeb" stroke-width="1.1"/>
<line x1="94.2" y1="1487.45" x2="1952" y2="1487.45" stroke="#ebebeb" stroke-width="1.1"/>
<line x1="94.2" y1="1351.95" x2="1952" y2="1351.95" stroke="#ebebeb" stroke-width="1.1"/>
<line x1="94.2" y1="1216.45" x2="1952" y2="1216.45" stroke="#ebebeb" stroke-width="1.1"/>
<line x1="94.2" y1="1690.7" x2="1952" y2="1690.7" stroke="#ebebeb" stroke-width="2.2"/>
<line x1="94.2" y1="1555.2" x2="1952" y2="1555.2" stroke="#ebebeb" stroke-width="2.2"/>
<line x1="94.2" y1="1419.7" x2="1952" y2="1419.7" stroke="#ebebeb" stroke-width="2.2"/>
<line x1="94.2" y1="1284.2" x2="1952" y2="1284.2" stroke="#ebebeb" stroke-width="2.2"/>
<line x1="124.85" y1="1156.2" x2="124.85" y2="1715.7" stroke="#ebebeb" stroke-width="2.2"/>
<line x1="176.19" y1="1156.2" x2="176.19" y2="1715.7" stroke="#ebebeb" stroke-width="2.2"/>
<line x1="227.53" y1="1156.2" x2="227.53" y2="1715.7" stroke="#ebebeb" stroke-width="2.2"/>
<line x1="278.87" y1="1156.2" x2="278.87" y2="1715.7" stroke="#ebebeb" stroke-width="2.2"/>
<line x1="330.21" y1="1156.2" x2="330.21" y2="1715.7" stroke="#ebebeb" stroke-width="2.2"/>
<line x1="381.55" y1="1156.2" x2="381.55" y2="1715.7" stroke="#ebebeb" stroke-width="2.2"/>
<line x1="432.89" y1="1156.2" x2="432.89" y2="1715.7" stroke="#ebebeb" stroke-width="2.2"/>
<line x1="484.23" y1="1156.2" x2="484.23" y2="1715.7" stroke="#ebebeb" stroke-width="2.2"/>
<line x1="535.57" y1="1156.2" x2="535.57" y2="1715.7" stroke="#ebebeb" stroke-width="2.2"/>
<line x1="586.91" y1="1156.2" x2="586.91" y2="1715.7" stroke="#ebebeb" stroke-width="2.2"/>
<line x1="638.25" y1="1156.2" x2="638.25" y2="1715.7" stroke="#ebebeb" stroke-width="2.2"/>
<line x1="689.59" y1="1156.2" x2="689.59" y2="1715.7" stroke="#ebebeb" stroke-width="2.2"/>
<line x1="740.93" y1="1156.2" x2="740.93" y2="1715.7" stroke="#ebebeb" stroke-width="2.2"/>
<line x1="792.27" y1="1156.2" x2="792.27" y2="1715.7" stroke="#ebebeb" stroke-width="2.2"/>
<line x1="843.61" y1="1156.2" x2="843.61" y2="1715.7" stroke="#ebebeb" stroke-width="2.2"/>
<line x1="894.95" y1="1156.2" x2="894.95" y2="1715.7" stroke="#ebebeb" stroke-width="2.2"/>
<line x1="946.29" y1="1156.2" x2="946.29" y2="1715.7" stroke="#ebebeb" stroke-width="2.2"/>
<line x1="997.63" y1="1156.2" x2="997.63" y2="1715.7" stroke="#ebebeb" stroke-width="2.2"/>
<line x1="1048.97" y1="1156.2" x2="1048.97" y2="1715.7" stroke="#ebebeb" stroke-width="2.2"/>
<line x1="1100.31" y1="1156.2" x2="1100.31" y2="1715.7" stroke="#ebebeb" stroke-width="2.2"/>
<line x1="1151.65" y1="1156.2" x2="1151.65" y2="1715.7" stroke="#ebebeb" stroke-width="2.2"/>
<line x1="1202.99" y1="1156.2" x2="1202.99" y2="1715.7" stroke="#ebebeb" stroke-width="2.2"/>
<line x1="1254.33" y1="1156.2" x2="1254.33" y2="1715.7" stroke="#ebebeb" stroke-width="2.2"/>
<line x1="1305.67" y1="1156.2" x2="1305.67" y2="1715.7" stroke="#ebebeb" stroke-width="2.2"/>
<line x1="1357.01" y1="1156.2" x2="1357.01" y2="1715.7" stroke="#ebebeb" stroke-width="2.2"/>
<line x1="1408.35" y1="1156.2" x2="1408.35" y2="1715.7" stroke="#ebebeb" stroke-width="2.2"/>
<line x1="1459.69" y1="1156.2" x2="1459.69" y2="1715.7" stroke="#ebebeb" stroke-width="2.2"/>
<line x1="1511.03" y1="1156.2" x2="1511.03" y2="1715.7" stroke="#ebebeb" stroke-width="2.2"/>
<line x1="1562.37" y1="1156.2" x2="1562.37" y2="1715.7" stroke="#ebebeb" stroke-width="2.2"/>
<line x1="1613.71" y1="1156.2" x2="1613.71" y2="1715.7" stroke="#ebebeb" stroke-width="2.2"/>
<line x1="1665.05" y1="1156.2" x2="1665.05" y2="1715.7" stroke="#ebebeb" stroke-width="2.2"/>
<line x1="1716.39" y1="1156.2" x2="1716.39" y2="1715.7" stroke="#ebebeb" stroke-width="2.2"/>
<line x1="1767.73" y1="1156.2" x2="1767.73" y2="1715.7" stroke="#ebebeb" stroke-width="2.2"/>
<line x1="1819.07" y1="1156.2" x2="1819.07" y2="1715.7" stroke="#ebebeb" stroke-width="2.2"/>
<line x1="1870.41" y1="1156.2" x2="1870.41" y2="1715.7" stroke="#ebebeb" stroke-width="2.2"/>
<line x1="1921.75" y1="1156.2" x2="1921.75" y2="1715.7" stroke="#ebebeb" stroke-width="2.2"/>
<line x1="115.15" y1="1630.24" x2="115.15" y2="1638.73" stroke="#111111" stroke-width="1.7"/>
<line x1="115.15" y1="1658.42" x2="115.15" y2="1670.24" stroke="#111111" stroke-width="1.7"/>
<rect x="106.35" y="1638.73" width="17.6" height="19.7" fill="#9ad4fe" stroke="#111111" stroke-width="1.8"/>
<line x1="106.35" y1="1648.42" x2="123.95" y2="1648.42" stroke="#111111" stroke-width="3.6"/>
<circle cx="115.15" cy="1568.73" r="3.9" fill="#111111"/>
<circle cx="115.15" cy="1602.06" r="3.9" fill="#111111"/>
<line x1="134.55" y1="1241.45" x2="134.55" y2="1270.55" stroke="#111111" stroke-width="1.7"/>
<line x1="134.55" y1="1380.24" x2="134.55" y2="1456" stroke="#111111" stroke-width="1.7"/>
<rect x="125.75" y="1270.55" width="17.6" height="109.7" fill="#f0fe62" stroke="#111111" stroke-width="1.8"/>
<line x1="125.75" y1="1323.58" x2="143.35" y2="1323.58" stroke="#111111" stroke-width="3.6"/>
<line x1="166.49" y1="1575.09" x2="166.49" y2="1610.55" stroke="#111111" stroke-width="1.7"/>
<line x1="166.49" y1="1669.64" x2="166.49" y2="1687.21" stroke="#111111" stroke-width="1.7"/>
<rect x="157.69" y="1610.55" width="17.6" height="59.09" fill="#9ad4fe" stroke="#111111" stroke-width="1.8"/>
<line x1="157.69" y1="1640.85" x2="175.29" y2="1640.85" stroke="#111111" stroke-width="3.6"/>
<line x1="185.89" y1="1281.15" x2="185.89" y2="1318.73" stroke="#111111" stroke-width="1.7"/>
<line x1="185.89" y1="1406" x2="185.89" y2="1473.27" stroke="#111111" stroke-width="1.7"/>
<rect x="177.09" y="1318.73" width="17.6" height="87.27" fill="#f0fe62" stroke="#111111" stroke-width="1.8"/>
<line x1="177.09" y1="1360.55" x2="194.69" y2="1360.55" stroke="#111111" stroke-width="3.6"/>
<line x1="217.83" y1="1485.39" x2="217.83" y2="1559.94" stroke="#111111" stroke-width="1.7"/>
<line x1="217.83" y1="1624.18" x2="217.83" y2="1686.91" stroke="#111111" stroke-width="1.7"/>
<rect x="209.03" y="1559.94" width="17.6" height="64.24" fill="#9ad4fe" stroke="#111111" stroke-width="1.8"/>
<line x1="209.03" y1="1591.45" x2="226.63" y2="1591.45" stroke="#111111" stroke-width="3.6"/>
<line x1="237.23" y1="1289.33" x2="237.23" y2="1380.24" stroke="#111111" stroke-width="1.7"/>
<line x1="237.23" y1="1472.67" x2="237.23" y2="1577.21" stroke="#111111" stroke-width="1.7"/>
<rect x="228.43" y="1380.24" width="17.6" height="92.42" fill="#f0fe62" stroke="#111111" stroke-width="1.8"/>
<line x1="228.43" y1="1430.24" x2="246.03" y2="1430.24" stroke="#111111" stroke-width="3.6"/>
<line x1="269.17" y1="1606.61" x2="269.17" y2="1647.82" stroke="#111111" stroke-width="1.7"/>
<line x1="269.17" y1="1678.12" x2="269.17" y2="1689.94" stroke="#111111" stroke-width="1.7"/>
<rect x="260.37" y="1647.82" width="17.6" height="30.3" fill="#9ad4fe" stroke="#111111" stroke-width="1.8"/>
<line x1="260.37" y1="1665.7" x2="277.97" y2="1665.7" stroke="#111111" stroke-width="3.6"/>
<circle cx="269.17" cy="1559.94" r="3.9" fill="#111111"/>
<circle cx="269.17" cy="1563.58" r="3.9" fill="#111111"/>
<circle cx="269.17" cy="1600.55" r="3.9" fill="#111111"/>
<line x1="288.57" y1="1400.55" x2="288.57" y2="1462.67" stroke="#111111" stroke-width="1.7"/>
<line x1="288.57" y1="1536.91" x2="288.57" y2="1580.85" stroke="#111111" stroke-width="1.7"/>
<rect x="279.77" y="1462.67" width="17.6" height="74.24" fill="#f0fe62" stroke="#111111" stroke-width="1.8"/>
<line x1="279.77" y1="1515.09" x2="297.37" y2="1515.09" stroke="#111111" stroke-width="3.6"/>
<line x1="320.51" y1="1487.82" x2="320.51" y2="1582.36" stroke="#111111" stroke-width="1.7"/>
<line x1="320.51" y1="1659.03" x2="320.51" y2="1686.91" stroke="#111111" stroke-width="1.7"/>
<rect x="311.71" y="1582.36" width="17.6" height="76.67" fill="#9ad4fe" stroke="#111111" stroke-width="1.8"/>
<line x1="311.71" y1="1630.85" x2="329.31" y2="1630.85" stroke="#111111" stroke-width="3.6"/>
<circle cx="320.51" cy="1402.97" r="3.9" fill="#111111"/>
<circle cx="320.51" cy="1417.21" r="3.9" fill="#111111"/>
<circle cx="320.51" cy="1448.42" r="3.9" fill="#111111"/>
<circle cx="320.51" cy="1454.48" r="3.9" fill="#111111"/>
<line x1="339.91" y1="1265.09" x2="339.91" y2="1356.61" stroke="#111111" stroke-width="1.7"/>
<line x1="339.91" y1="1473.27" x2="339.91" y2="1646.3" stroke="#111111" stroke-width="1.7"/>
<rect x="331.11" y="1356.61" width="17.6" height="116.67" fill="#f0fe62" stroke="#111111" stroke-width="1.8"/>
<line x1="331.11" y1="1414.48" x2="348.71" y2="1414.48" stroke="#111111" stroke-width="3.6"/>
<line x1="371.85" y1="1566.61" x2="371.85" y2="1622.06" stroke="#111111" stroke-width="1.7"/>
<line x1="371.85" y1="1662.06" x2="371.85" y2="1686.3" stroke="#111111" stroke-width="1.7"/>
<rect x="363.05" y="1622.06" width="17.6" height="40" fill="#9ad4fe" stroke="#111111" stroke-width="1.8"/>
<line x1="363.05" y1="1643.27" x2="380.65" y2="1643.27" stroke="#111111" stroke-width="3.6"/>
<circle cx="371.85" cy="1513.58" r="3.9" fill="#111111"/>
<line x1="391.25" y1="1277.82" x2="391.25" y2="1380.24" stroke="#111111" stroke-width="1.7"/>
<line x1="391.25" y1="1462.97" x2="391.25" y2="1560.55" stroke="#111111" stroke-width="1.7"/>
<rect x="382.45" y="1380.24" width="17.6" height="82.73" fill="#f0fe62" stroke="#111111" stroke-width="1.8"/>
<line x1="382.45" y1="1411.15" x2="400.05" y2="1411.15" stroke="#111111" stroke-width="3.6"/>
<circle cx="391.25" cy="1590.85" r="3.9" fill="#111111"/>
<line x1="423.19" y1="1519.64" x2="423.19" y2="1607.52" stroke="#111111" stroke-width="1.7"/>
<line x1="423.19" y1="1677.82" x2="423.19" y2="1689.94" stroke="#111111" stroke-width="1.7"/>
<rect x="414.39" y="1607.52" width="17.6" height="70.3" fill="#9ad4fe" stroke="#111111" stroke-width="1.8"/>
<line x1="414.39" y1="1653.88" x2="431.99" y2="1653.88" stroke="#111111" stroke-width="3.6"/>
<line x1="442.59" y1="1309.03" x2="442.59" y2="1397.82" stroke="#111111" stroke-width="1.7"/>
<line x1="442.59" y1="1537.21" x2="442.59" y2="1679.33" stroke="#111111" stroke-width="1.7"/>
<rect x="433.79" y="1397.82" width="17.6" height="139.39" fill="#f0fe62" stroke="#111111" stroke-width="1.8"/>
<line x1="433.79" y1="1445.39" x2="451.39" y2="1445.39" stroke="#111111" stroke-width="3.6"/>
<line x1="474.53" y1="1496.3" x2="474.53" y2="1580.24" stroke="#111111" stroke-width="1.7"/>
<line x1="474.53" y1="1644.79" x2="474.53" y2="1684.79" stroke="#111111" stroke-width="1.7"/>
<rect x="465.73" y="1580.24" width="17.6" height="64.55" fill="#9ad4fe" stroke="#111111" stroke-width="1.8"/>
<line x1="465.73" y1="1623.58" x2="483.33" y2="1623.58" stroke="#111111" stroke-width="3.6"/>
<circle cx="474.53" cy="1400.85" r="3.9" fill="#111111"/>
<circle cx="474.53" cy="1458.12" r="3.9" fill="#111111"/>
<line x1="493.93" y1="1290.24" x2="493.93" y2="1383.27" stroke="#111111" stroke-width="1.7"/>
<line x1="493.93" y1="1487.82" x2="493.93" y2="1575.7" stroke="#111111" stroke-width="1.7"/>
<rect x="485.13" y="1383.27" width="17.6" height="104.55" fill="#f0fe62" stroke="#111111" stroke-width="1.8"/>
<line x1="485.13" y1="1431.76" x2="502.73" y2="1431.76" stroke="#111111" stroke-width="3.6"/>
<line x1="525.87" y1="1502.36" x2="525.87" y2="1546.91" stroke="#111111" stroke-width="1.7"/>
<line x1="525.87" y1="1617.21" x2="525.87" y2="1681.15" stroke="#111111" stroke-width="1.7"/>
<rect x="517.07" y="1546.91" width="17.6" height="70.3" fill="#9ad4fe" stroke="#111111" stroke-width="1.8"/>
<line x1="517.07" y1="1606.61" x2="534.67" y2="1606.61" stroke="#111111" stroke-width="3.6"/>
<circle cx="525.87" cy="1440.24" r="3.9" fill="#111111"/>
<line x1="545.27" y1="1279.33" x2="545.27" y2="1393.27" stroke="#111111" stroke-width="1.7"/>
<line x1="545.27" y1="1500.55" x2="545.27" y2="1581.15" stroke="#111111" stroke-width="1.7"/>
<rect x="536.47" y="1393.27" width="17.6" height="107.27" fill="#f0fe62" stroke="#111111" stroke-width="1.8"/>
<line x1="536.47" y1="1456.61" x2="554.07" y2="1456.61" stroke="#111111" stroke-width="3.6"/>
<line x1="577.21" y1="1421.76" x2="577.21" y2="1462.97" stroke="#111111" stroke-width="1.7"/>
<line x1="577.21" y1="1571.76" x2="577.21" y2="1686.3" stroke="#111111" stroke-width="1.7"/>
<rect x="568.41" y="1462.97" width="17.6" height="108.79" fill="#9ad4fe" stroke="#111111" stroke-width="1.8"/>
<line x1="568.41" y1="1520.55" x2="586.01" y2="1520.55" stroke="#111111" stroke-width="3.6"/>
<line x1="596.61" y1="1352.06" x2="596.61" y2="1377.21" stroke="#111111" stroke-width="1.7"/>
<line x1="596.61" y1="1438.42" x2="596.61" y2="1519.64" stroke="#111111" stroke-width="1.7"/>
<rect x="587.81" y="1377.21" width="17.6" height="61.21" fill="#f0fe62" stroke="#111111" stroke-width="1.8"/>
<line x1="587.81" y1="1404.48" x2="605.41" y2="1404.48" stroke="#111111" stroke-width="3.6"/>
<circle cx="596.61" cy="1180.24" r="3.9" fill="#111111"/>
<circle cx="596.61" cy="1270.24" r="3.9" fill="#111111"/>
<line x1="628.55" y1="1559.94" x2="628.55" y2="1584.79" stroke="#111111" stroke-width="1.7"/>
<line x1="628.55" y1="1620.24" x2="628.55" y2="1630.24" stroke="#111111" stroke-width="1.7"/>
<rect x="619.75" y="1584.79" width="17.6" height="35.45" fill="#9ad4fe" stroke="#111111" stroke-width="1.8"/>
<line x1="619.75" y1="1609.64" x2="637.35" y2="1609.64" stroke="#111111" stroke-width="3.6"/>
<line x1="647.95" y1="1325.09" x2="647.95" y2="1338.42" stroke="#111111" stroke-width="1.7"/>
<line x1="647.95" y1="1377.21" x2="647.95" y2="1400.85" stroke="#111111" stroke-width="1.7"/>
<rect x="639.15" y="1338.42" width="17.6" height="38.79" fill="#f0fe62" stroke="#111111" stroke-width="1.8"/>
<line x1="639.15" y1="1352.36" x2="656.75" y2="1352.36" stroke="#111111" stroke-width="3.6"/>
<line x1="679.89" y1="1572.06" x2="679.89" y2="1590.85" stroke="#111111" stroke-width="1.7"/>
<line x1="679.89" y1="1649.94" x2="679.89" y2="1674.18" stroke="#111111" stroke-width="1.7"/>
<rect x="671.09" y="1590.85" width="17.6" height="59.09" fill="#9ad4fe" stroke="#111111" stroke-width="1.8"/>
<line x1="671.09" y1="1627.21" x2="688.69" y2="1627.21" stroke="#111111" stroke-width="3.6"/>
<line x1="699.29" y1="1266" x2="699.29" y2="1330.24" stroke="#111111" stroke-width="1.7"/>
<line x1="699.29" y1="1507.52" x2="699.29" y2="1599.94" stroke="#111111" stroke-width="1.7"/>
<rect x="690.49" y="1330.24" width="17.6" height="177.27" fill="#f0fe62" stroke="#111111" stroke-width="1.8"/>
<line x1="690.49" y1="1355.39" x2="708.09" y2="1355.39" stroke="#111111" stroke-width="3.6"/>
<line x1="731.23" y1="1602.06" x2="731.23" y2="1614.48" stroke="#111111" stroke-width="1.7"/>
<line x1="731.23" y1="1653.88" x2="731.23" y2="1673.27" stroke="#111111" stroke-width="1.7"/>
<rect x="722.43" y="1614.48" width="17.6" height="39.39" fill="#9ad4fe" stroke="#111111" stroke-width="1.8"/>
<line x1="722.43" y1="1644.48" x2="740.03" y2="1644.48" stroke="#111111" stroke-width="3.6"/>
<circle cx="731.23" cy="1548.42" r="3.9" fill="#111111"/>
<circle cx="731.23" cy="1552.97" r="3.9" fill="#111111"/>
<line x1="750.63" y1="1250.85" x2="750.63" y2="1330.24" stroke="#111111" stroke-width="1.7"/>
<line x1="750.63" y1="1430.85" x2="750.63" y2="1483.88" stroke="#111111" stroke-width="1.7"/>
<rect x="741.83" y="1330.24" width="17.6" height="100.61" fill="#f0fe62" stroke="#111111" stroke-width="1.8"/>
<line x1="741.83" y1="1393.88" x2="759.43" y2="1393.88" stroke="#111111" stroke-width="3.6"/>
<line x1="782.57" y1="1539.33" x2="782.57" y2="1591.45" stroke="#111111" stroke-width="1.7"/>
<line x1="782.57" y1="1637.82" x2="782.57" y2="1667.21" stroke="#111111" stroke-width="1.7"/>
<rect x="773.77" y="1591.45" width="17.6" height="46.36" fill="#9ad4fe" stroke="#111111" stroke-width="1.8"/>
<line x1="773.77" y1="1614.48" x2="791.37" y2="1614.48" stroke="#111111" stroke-width="3.6"/>
<line x1="801.97" y1="1297.52" x2="801.97" y2="1349.94" stroke="#111111" stroke-width="1.7"/>
<line x1="801.97" y1="1405.09" x2="801.97" y2="1484.18" stroke="#111111" stroke-width="1.7"/>
<rect x="793.17" y="1349.94" width="17.6" height="55.15" fill="#f0fe62" stroke="#111111" stroke-width="1.8"/>
<line x1="793.17" y1="1383.88" x2="810.77" y2="1383.88" stroke="#111111" stroke-width="3.6"/>
<circle cx="801.97" cy="1256" r="3.9" fill="#111111"/>
<line x1="833.91" y1="1445.39" x2="833.91" y2="1521.15" stroke="#111111" stroke-width="1.7"/>
<line x1="833.91" y1="1611.15" x2="833.91" y2="1685.7" stroke="#111111" stroke-width="1.7"/>
<rect x="825.11" y="1521.15" width="17.6" height="90" fill="#9ad4fe" stroke="#111111" stroke-width="1.8"/>
<line x1="825.11" y1="1552.06" x2="842.71" y2="1552.06" stroke="#111111" stroke-width="3.6"/>
<line x1="853.31" y1="1363.58" x2="853.31" y2="1389.94" stroke="#111111" stroke-width="1.7"/>
<line x1="853.31" y1="1459.03" x2="853.31" y2="1511.15" stroke="#111111" stroke-width="1.7"/>
<rect x="844.51" y="1389.94" width="17.6" height="69.09" fill="#f0fe62" stroke="#111111" stroke-width="1.8"/>
<line x1="844.51" y1="1412.67" x2="862.11" y2="1412.67" stroke="#111111" stroke-width="3.6"/>
<circle cx="853.31" cy="1233.27" r="3.9" fill="#111111"/>
<circle cx="853.31" cy="1246" r="3.9" fill="#111111"/>
<circle cx="853.31" cy="1264.18" r="3.9" fill="#111111"/>
<line x1="885.25" y1="1654.48" x2="885.25" y2="1658.12" stroke="#111111" stroke-width="1.7"/>
<line x1="885.25" y1="1681.76" x2="885.25" y2="1689.94" stroke="#111111" stroke-width="1.7"/>
<rect x="876.45" y="1658.12" width="17.6" height="23.64" fill="#9ad4fe" stroke="#111111" stroke-width="1.8"/>
<line x1="876.45" y1="1665.09" x2="894.05" y2="1665.09" stroke="#111111" stroke-width="3.6"/>
<circle cx="885.25" cy="1423.27" r="3.9" fill="#111111"/>
<circle cx="885.25" cy="1487.82" r="3.9" fill="#111111"/>
<circle cx="885.25" cy="1549.03" r="3.9" fill="#111111"/>
<circle cx="885.25" cy="1583.27" r="3.9" fill="#111111"/>
<line x1="904.65" y1="1464.18" x2="904.65" y2="1501.45" stroke="#111111" stroke-width="1.7"/>
<line x1="904.65" y1="1551.45" x2="904.65" y2="1591.45" stroke="#111111" stroke-width="1.7"/>
<rect x="895.85" y="1501.45" width="17.6" height="50" fill="#f0fe62" stroke="#111111" stroke-width="1.8"/>
<line x1="895.85" y1="1529.33" x2="913.45" y2="1529.33" stroke="#111111" stroke-width="3.6"/>
<circle cx="904.65" cy="1414.18" r="3.9" fill="#111111"/>
<circle cx="904.65" cy="1424.18" r="3.9" fill="#111111"/>
<circle cx="904.65" cy="1626.61" r="3.9" fill="#111111"/>
<circle cx="904.65" cy="1649.94" r="3.9" fill="#111111"/>
<line x1="936.59" y1="1621.76" x2="936.59" y2="1649.94" stroke="#111111" stroke-width="1.7"/>
<line x1="936.59" y1="1674.18" x2="936.59" y2="1685.7" stroke="#111111" stroke-width="1.7"/>
<rect x="927.79" y="1649.94" width="17.6" height="24.24" fill="#9ad4fe" stroke="#111111" stroke-width="1.8"/>
<line x1="927.79" y1="1660.55" x2="945.39" y2="1660.55" stroke="#111111" stroke-width="3.6"/>
<line x1="955.99" y1="1338.73" x2="955.99" y2="1407.52" stroke="#111111" stroke-width="1.7"/>
<line x1="955.99" y1="1508.12" x2="955.99" y2="1552.06" stroke="#111111" stroke-width="1.7"/>
<rect x="947.19" y="1407.52" width="17.6" height="100.61" fill="#f0fe62" stroke="#111111" stroke-width="1.8"/>
<line x1="947.19" y1="1458.12" x2="964.79" y2="1458.12" stroke="#111111" stroke-width="3.6"/>
<line x1="987.93" y1="1587.21" x2="987.93" y2="1614.48" stroke="#111111" stroke-width="1.7"/>
<line x1="987.93" y1="1651.45" x2="987.93" y2="1676.3" stroke="#111111" stroke-width="1.7"/>
<rect x="979.13" y="1614.48" width="17.6" height="36.97" fill="#9ad4fe" stroke="#111111" stroke-width="1.8"/>
<line x1="979.13" y1="1632.36" x2="996.73" y2="1632.36" stroke="#111111" stroke-width="3.6"/>
<circle cx="987.93" cy="1535.39" r="3.9" fill="#111111"/>
<circle cx="987.93" cy="1538.42" r="3.9" fill="#111111"/>
<circle cx="987.93" cy="1551.45" r="3.9" fill="#111111"/>
<line x1="1007.33" y1="1303.58" x2="1007.33" y2="1393.27" stroke="#111111" stroke-width="1.7"/>
<line x1="1007.33" y1="1474.18" x2="1007.33" y2="1587.82" stroke="#111111" stroke-width="1.7"/>
<rect x="998.53" y="1393.27" width="17.6" height="80.91" fill="#f0fe62" stroke="#111111" stroke-width="1.8"/>
<line x1="998.53" y1="1425.09" x2="1016.13" y2="1425.09" stroke="#111111" stroke-width="3.6"/>
<circle cx="1007.33" cy="1632.36" r="3.9" fill="#111111"/>
<line x1="1039.27" y1="1570.24" x2="1039.27" y2="1619.64" stroke="#111111" stroke-width="1.7"/>
<line x1="1039.27" y1="1675.09" x2="1039.27" y2="1686.3" stroke="#111111" stroke-width="1.7"/>
<rect x="1030.47" y="1619.64" width="17.6" height="55.45" fill="#9ad4fe" stroke="#111111" stroke-width="1.8"/>
<line x1="1030.47" y1="1656" x2="1048.07" y2="1656" stroke="#111111" stroke-width="3.6"/>
<line x1="1058.67" y1="1428.73" x2="1058.67" y2="1456" stroke="#111111" stroke-width="1.7"/>
<line x1="1058.67" y1="1584.18" x2="1058.67" y2="1616.61" stroke="#111111" stroke-width="1.7"/>
<rect x="1049.87" y="1456" width="17.6" height="128.18" fill="#f0fe62" stroke="#111111" stroke-width="1.8"/>
<line x1="1049.87" y1="1546.91" x2="1067.47" y2="1546.91" stroke="#111111" stroke-width="3.6"/>
<line x1="1090.61" y1="1485.39" x2="1090.61" y2="1538.73" stroke="#111111" stroke-width="1.7"/>
<line x1="1090.61" y1="1606" x2="1090.61" y2="1675.09" stroke="#111111" stroke-width="1.7"/>
<rect x="1081.81" y="1538.73" width="17.6" height="67.27" fill="#9ad4fe" stroke="#111111" stroke-width="1.8"/>
<line x1="1081.81" y1="1562.97" x2="1099.41" y2="1562.97" stroke="#111111" stroke-width="3.6"/>
<circle cx="1090.61" cy="1410.55" r="3.9" fill="#111111"/>
<line x1="1110.01" y1="1378.12" x2="1110.01" y2="1447.52" stroke="#111111" stroke-width="1.7"/>
<line x1="1110.01" y1="1519.03" x2="1110.01" y2="1620.24" stroke="#111111" stroke-width="1.7"/>
<rect x="1101.21" y="1447.52" width="17.6" height="71.52" fill="#f0fe62" stroke="#111111" stroke-width="1.8"/>
<line x1="1101.21" y1="1478.12" x2="1118.81" y2="1478.12" stroke="#111111" stroke-width="3.6"/>
<circle cx="1110.01" cy="1309.94" r="3.9" fill="#111111"/>
<circle cx="1110.01" cy="1339.33" r="3.9" fill="#111111"/>
<line x1="1141.95" y1="1480.85" x2="1141.95" y2="1540.24" stroke="#111111" stroke-width="1.7"/>
<line x1="1141.95" y1="1608.12" x2="1141.95" y2="1661.45" stroke="#111111" stroke-width="1.7"/>
<rect x="1133.15" y="1540.24" width="17.6" height="67.88" fill="#9ad4fe" stroke="#111111" stroke-width="1.8"/>
<line x1="1133.15" y1="1572.06" x2="1150.75" y2="1572.06" stroke="#111111" stroke-width="3.6"/>
<line x1="1161.35" y1="1386.91" x2="1161.35" y2="1477.21" stroke="#111111" stroke-width="1.7"/>
<line x1="1161.35" y1="1542.36" x2="1161.35" y2="1611.15" stroke="#111111" stroke-width="1.7"/>
<rect x="1152.55" y="1477.21" width="17.6" height="65.15" fill="#f0fe62" stroke="#111111" stroke-width="1.8"/>
<line x1="1152.55" y1="1516.61" x2="1170.15" y2="1516.61" stroke="#111111" stroke-width="3.6"/>
<line x1="1193.29" y1="1398.42" x2="1193.29" y2="1465.09" stroke="#111111" stroke-width="1.7"/>
<line x1="1193.29" y1="1528.12" x2="1193.29" y2="1616.61" stroke="#111111" stroke-width="1.7"/>
<rect x="1184.49" y="1465.09" width="17.6" height="63.03" fill="#9ad4fe" stroke="#111111" stroke-width="1.8"/>
<line x1="1184.49" y1="1505.39" x2="1202.09" y2="1505.39" stroke="#111111" stroke-width="3.6"/>
<line x1="1212.69" y1="1336.3" x2="1212.69" y2="1406.91" stroke="#111111" stroke-width="1.7"/>
<line x1="1212.69" y1="1473.58" x2="1212.69" y2="1549.03" stroke="#111111" stroke-width="1.7"/>
<rect x="1203.89" y="1406.91" width="17.6" height="66.67" fill="#f0fe62" stroke="#111111" stroke-width="1.8"/>
<line x1="1203.89" y1="1440.24" x2="1221.49" y2="1440.24" stroke="#111111" stroke-width="3.6"/>
<circle cx="1212.69" cy="1607.52" r="3.9" fill="#111111"/>
<line x1="1244.63" y1="1412.97" x2="1244.63" y2="1449.03" stroke="#111111" stroke-width="1.7"/>
<line x1="1244.63" y1="1509.03" x2="1244.63" y2="1572.06" stroke="#111111" stroke-width="1.7"/>
<rect x="1235.83" y="1449.03" width="17.6" height="60" fill="#9ad4fe" stroke="#111111" stroke-width="1.8"/>
<line x1="1235.83" y1="1478.12" x2="1253.43" y2="1478.12" stroke="#111111" stroke-width="3.6"/>
<circle cx="1244.63" cy="1606" r="3.9" fill="#111111"/>
<circle cx="1244.63" cy="1621.76" r="3.9" fill="#111111"/>
<line x1="1264.03" y1="1383.88" x2="1264.03" y2="1449.94" stroke="#111111" stroke-width="1.7"/>
<line x1="1264.03" y1="1521.15" x2="1264.03" y2="1562.06" stroke="#111111" stroke-width="1.7"/>
<rect x="1255.23" y="1449.94" width="17.6" height="71.21" fill="#f0fe62" stroke="#111111" stroke-width="1.8"/>
<line x1="1255.23" y1="1501.45" x2="1272.83" y2="1501.45" stroke="#111111" stroke-width="3.6"/>
<line x1="1295.97" y1="1476.61" x2="1295.97" y2="1530.85" stroke="#111111" stroke-width="1.7"/>
<line x1="1295.97" y1="1601.45" x2="1295.97" y2="1647.82" stroke="#111111" stroke-width="1.7"/>
<rect x="1287.17" y="1530.85" width="17.6" height="70.61" fill="#9ad4fe" stroke="#111111" stroke-width="1.8"/>
<line x1="1287.17" y1="1572.67" x2="1304.77" y2="1572.67" stroke="#111111" stroke-width="3.6"/>
<line x1="1315.37" y1="1380.24" x2="1315.37" y2="1446.3" stroke="#111111" stroke-width="1.7"/>
<line x1="1315.37" y1="1534.18" x2="1315.37" y2="1573.27" stroke="#111111" stroke-width="1.7"/>
<rect x="1306.57" y="1446.3" width="17.6" height="87.88" fill="#f0fe62" stroke="#111111" stroke-width="1.8"/>
<line x1="1306.57" y1="1484.79" x2="1324.17" y2="1484.79" stroke="#111111" stroke-width="3.6"/>
<line x1="1347.31" y1="1553.88" x2="1347.31" y2="1605.39" stroke="#111111" stroke-width="1.7"/>
<line x1="1347.31" y1="1641.45" x2="1347.31" y2="1689.94" stroke="#111111" stroke-width="1.7"/>
<rect x="1338.51" y="1605.39" width="17.6" height="36.06" fill="#9ad4fe" stroke="#111111" stroke-width="1.8"/>
<line x1="1338.51" y1="1625.09" x2="1356.11" y2="1625.09" stroke="#111111" stroke-width="3.6"/>
<line x1="1366.71" y1="1352.36" x2="1366.71" y2="1398.42" stroke="#111111" stroke-width="1.7"/>
<line x1="1366.71" y1="1440.24" x2="1366.71" y2="1488.73" stroke="#111111" stroke-width="1.7"/>
<rect x="1357.91" y="1398.42" width="17.6" height="41.82" fill="#f0fe62" stroke="#111111" stroke-width="1.8"/>
<line x1="1357.91" y1="1419.64" x2="1375.51" y2="1419.64" stroke="#111111" stroke-width="3.6"/>
<circle cx="1366.71" cy="1319.64" r="3.9" fill="#111111"/>
<circle cx="1366.71" cy="1330.85" r="3.9" fill="#111111"/>
<circle cx="1366.71" cy="1522.06" r="3.9" fill="#111111"/>
<line x1="1398.65" y1="1544.48" x2="1398.65" y2="1605.39" stroke="#111111" stroke-width="1.7"/>
<line x1="1398.65" y1="1659.64" x2="1398.65" y2="1689.94" stroke="#111111" stroke-width="1.7"/>
<rect x="1389.85" y="1605.39" width="17.6" height="54.24" fill="#9ad4fe" stroke="#111111" stroke-width="1.8"/>
<line x1="1389.85" y1="1633.88" x2="1407.45" y2="1633.88" stroke="#111111" stroke-width="3.6"/>
<line x1="1418.05" y1="1379.64" x2="1418.05" y2="1418.12" stroke="#111111" stroke-width="1.7"/>
<line x1="1418.05" y1="1470.24" x2="1418.05" y2="1500.55" stroke="#111111" stroke-width="1.7"/>
<rect x="1409.25" y="1418.12" width="17.6" height="52.12" fill="#f0fe62" stroke="#111111" stroke-width="1.8"/>
<line x1="1409.25" y1="1445.39" x2="1426.85" y2="1445.39" stroke="#111111" stroke-width="3.6"/>
<line x1="1449.99" y1="1468.12" x2="1449.99" y2="1547.82" stroke="#111111" stroke-width="1.7"/>
<line x1="1449.99" y1="1603.88" x2="1449.99" y2="1656" stroke="#111111" stroke-width="1.7"/>
<rect x="1441.19" y="1547.82" width="17.6" height="56.06" fill="#9ad4fe" stroke="#111111" stroke-width="1.8"/>
<line x1="1441.19" y1="1570.55" x2="1458.79" y2="1570.55" stroke="#111111" stroke-width="3.6"/>
<circle cx="1449.99" cy="1462.97" r="3.9" fill="#111111"/>
<line x1="1469.39" y1="1406.91" x2="1469.39" y2="1453.58" stroke="#111111" stroke-width="1.7"/>
<line x1="1469.39" y1="1496" x2="1469.39" y2="1528.73" stroke="#111111" stroke-width="1.7"/>
<rect x="1460.59" y="1453.58" width="17.6" height="42.42" fill="#f0fe62" stroke="#111111" stroke-width="1.8"/>
<line x1="1460.59" y1="1473.58" x2="1478.19" y2="1473.58" stroke="#111111" stroke-width="3.6"/>
<circle cx="1469.39" cy="1369.03" r="3.9" fill="#111111"/>
<circle cx="1469.39" cy="1380.85" r="3.9" fill="#111111"/>
<line x1="1501.33" y1="1503.58" x2="1501.33" y2="1597.52" stroke="#111111" stroke-width="1.7"/>
<line x1="1501.33" y1="1669.64" x2="1501.33" y2="1689.94" stroke="#111111" stroke-width="1.7"/>
<rect x="1492.53" y="1597.52" width="17.6" height="72.12" fill="#9ad4fe" stroke="#111111" stroke-width="1.8"/>
<line x1="1492.53" y1="1636.91" x2="1510.13" y2="1636.91" stroke="#111111" stroke-width="3.6"/>
<circle cx="1501.33" cy="1382.36" r="3.9" fill="#111111"/>
<circle cx="1501.33" cy="1390.24" r="3.9" fill="#111111"/>
<line x1="1520.73" y1="1375.09" x2="1520.73" y2="1472.06" stroke="#111111" stroke-width="1.7"/>
<line x1="1520.73" y1="1547.82" x2="1520.73" y2="1596.91" stroke="#111111" stroke-width="1.7"/>
<rect x="1511.93" y="1472.06" width="17.6" height="75.76" fill="#f0fe62" stroke="#111111" stroke-width="1.8"/>
<line x1="1511.93" y1="1525.7" x2="1529.53" y2="1525.7" stroke="#111111" stroke-width="3.6"/>
<line x1="1552.67" y1="1502.97" x2="1552.67" y2="1559.94" stroke="#111111" stroke-width="1.7"/>
<line x1="1552.67" y1="1623.27" x2="1552.67" y2="1671.15" stroke="#111111" stroke-width="1.7"/>
<rect x="1543.87" y="1559.94" width="17.6" height="63.33" fill="#9ad4fe" stroke="#111111" stroke-width="1.8"/>
<line x1="1543.87" y1="1586.3" x2="1561.47" y2="1586.3" stroke="#111111" stroke-width="3.6"/>
<line x1="1572.07" y1="1342.97" x2="1572.07" y2="1392.97" stroke="#111111" stroke-width="1.7"/>
<line x1="1572.07" y1="1472.06" x2="1572.07" y2="1539.33" stroke="#111111" stroke-width="1.7"/>
<rect x="1563.27" y="1392.97" width="17.6" height="79.09" fill="#f0fe62" stroke="#111111" stroke-width="1.8"/>
<line x1="1563.27" y1="1432.67" x2="1580.87" y2="1432.67" stroke="#111111" stroke-width="3.6"/>
<circle cx="1572.07" cy="1615.09" r="3.9" fill="#111111"/>
<line x1="1604.01" y1="1570.55" x2="1604.01" y2="1607.52" stroke="#111111" stroke-width="1.7"/>
<line x1="1604.01" y1="1656.91" x2="1604.01" y2="1673.58" stroke="#111111" stroke-width="1.7"/>
<rect x="1595.21" y="1607.52" width="17.6" height="49.39" fill="#9ad4fe" stroke="#111111" stroke-width="1.8"/>
<line x1="1595.21" y1="1646.3" x2="1612.81" y2="1646.3" stroke="#111111" stroke-width="3.6"/>
<line x1="1623.41" y1="1346.91" x2="1623.41" y2="1437.82" stroke="#111111" stroke-width="1.7"/>
<line x1="1623.41" y1="1534.79" x2="1623.41" y2="1646" stroke="#111111" stroke-width="1.7"/>
<rect x="1614.61" y="1437.82" width="17.6" height="96.97" fill="#f0fe62" stroke="#111111" stroke-width="1.8"/>
<line x1="1614.61" y1="1481.15" x2="1632.21" y2="1481.15" stroke="#111111" stroke-width="3.6"/>
<line x1="1655.35" y1="1531.15" x2="1655.35" y2="1602.97" stroke="#111111" stroke-width="1.7"/>
<line x1="1655.35" y1="1659.94" x2="1655.35" y2="1687.21" stroke="#111111" stroke-width="1.7"/>
<rect x="1646.55" y="1602.97" width="17.6" height="56.97" fill="#9ad4fe" stroke="#111111" stroke-width="1.8"/>
<line x1="1646.55" y1="1640.85" x2="1664.15" y2="1640.85" stroke="#111111" stroke-width="3.6"/>
<circle cx="1655.35" cy="1444.79" r="3.9" fill="#111111"/>
<circle cx="1655.35" cy="1482.36" r="3.9" fill="#111111"/>
<circle cx="1655.35" cy="1490.24" r="3.9" fill="#111111"/>
<line x1="1674.75" y1="1392.97" x2="1674.75" y2="1450.55" stroke="#111111" stroke-width="1.7"/>
<line x1="1674.75" y1="1558.12" x2="1674.75" y2="1656.91" stroke="#111111" stroke-width="1.7"/>
<rect x="1665.95" y="1450.55" width="17.6" height="107.58" fill="#f0fe62" stroke="#111111" stroke-width="1.8"/>
<line x1="1665.95" y1="1499.03" x2="1683.55" y2="1499.03" stroke="#111111" stroke-width="3.6"/>
<line x1="1706.69" y1="1468.12" x2="1706.69" y2="1539.33" stroke="#111111" stroke-width="1.7"/>
<line x1="1706.69" y1="1594.48" x2="1706.69" y2="1635.39" stroke="#111111" stroke-width="1.7"/>
<rect x="1697.89" y="1539.33" width="17.6" height="55.15" fill="#9ad4fe" stroke="#111111" stroke-width="1.8"/>
<line x1="1697.89" y1="1553.88" x2="1715.49" y2="1553.88" stroke="#111111" stroke-width="3.6"/>
<line x1="1726.09" y1="1380.85" x2="1726.09" y2="1450.55" stroke="#111111" stroke-width="1.7"/>
<line x1="1726.09" y1="1506.61" x2="1726.09" y2="1576.3" stroke="#111111" stroke-width="1.7"/>
<rect x="1717.29" y="1450.55" width="17.6" height="56.06" fill="#f0fe62" stroke="#111111" stroke-width="1.8"/>
<line x1="1717.29" y1="1477.82" x2="1734.89" y2="1477.82" stroke="#111111" stroke-width="3.6"/>
<line x1="1758.03" y1="1416" x2="1758.03" y2="1522.67" stroke="#111111" stroke-width="1.7"/>
<line x1="1758.03" y1="1618.73" x2="1758.03" y2="1677.82" stroke="#111111" stroke-width="1.7"/>
<rect x="1749.23" y="1522.67" width="17.6" height="96.06" fill="#9ad4fe" stroke="#111111" stroke-width="1.8"/>
<line x1="1749.23" y1="1568.73" x2="1766.83" y2="1568.73" stroke="#111111" stroke-width="3.6"/>
<line x1="1777.43" y1="1380.85" x2="1777.43" y2="1450.55" stroke="#111111" stroke-width="1.7"/>
<line x1="1777.43" y1="1502.97" x2="1777.43" y2="1552.06" stroke="#111111" stroke-width="1.7"/>
<rect x="1768.63" y="1450.55" width="17.6" height="52.42" fill="#f0fe62" stroke="#111111" stroke-width="1.8"/>
<line x1="1768.63" y1="1493.88" x2="1786.23" y2="1493.88" stroke="#111111" stroke-width="3.6"/>
<line x1="1809.37" y1="1355.39" x2="1809.37" y2="1414.48" stroke="#111111" stroke-width="1.7"/>
<line x1="1809.37" y1="1475.7" x2="1809.37" y2="1527.82" stroke="#111111" stroke-width="1.7"/>
<rect x="1800.57" y="1414.48" width="17.6" height="61.21" fill="#9ad4fe" stroke="#111111" stroke-width="1.8"/>
<line x1="1800.57" y1="1450.85" x2="1818.17" y2="1450.85" stroke="#111111" stroke-width="3.6"/>
<circle cx="1809.37" cy="1580.85" r="3.9" fill="#111111"/>
<circle cx="1809.37" cy="1638.73" r="3.9" fill="#111111"/>
<line x1="1828.77" y1="1394.48" x2="1828.77" y2="1437.82" stroke="#111111" stroke-width="1.7"/>
<line x1="1828.77" y1="1488.73" x2="1828.77" y2="1547.52" stroke="#111111" stroke-width="1.7"/>
<rect x="1819.97" y="1437.82" width="17.6" height="50.91" fill="#f0fe62" stroke="#111111" stroke-width="1.8"/>
<line x1="1819.97" y1="1454.48" x2="1837.57" y2="1454.48" stroke="#111111" stroke-width="3.6"/>
<circle cx="1828.77" cy="1344.48" r="3.9" fill="#111111"/>
<circle cx="1828.77" cy="1578.12" r="3.9" fill="#111111"/>
<line x1="1860.71" y1="1424.79" x2="1860.71" y2="1484.79" stroke="#111111" stroke-width="1.7"/>
<line x1="1860.71" y1="1530.85" x2="1860.71" y2="1556" stroke="#111111" stroke-width="1.7"/>
<rect x="1851.91" y="1484.79" width="17.6" height="46.06" fill="#9ad4fe" stroke="#111111" stroke-width="1.8"/>
<line x1="1851.91" y1="1514.48" x2="1869.51" y2="1514.48" stroke="#111111" stroke-width="3.6"/>
<circle cx="1860.71" cy="1399.03" r="3.9" fill="#111111"/>
<line x1="1880.11" y1="1422.67" x2="1880.11" y2="1453.88" stroke="#111111" stroke-width="1.7"/>
<line x1="1880.11" y1="1494.79" x2="1880.11" y2="1526.3" stroke="#111111" stroke-width="1.7"/>
<rect x="1871.31" y="1453.88" width="17.6" height="40.91" fill="#f0fe62" stroke="#111111" stroke-width="1.8"/>
<line x1="1871.31" y1="1479.64" x2="1888.91" y2="1479.64" stroke="#111111" stroke-width="3.6"/>
<line x1="1912.05" y1="1499.33" x2="1912.05" y2="1532.36" stroke="#111111" stroke-width="1.7"/>
<line x1="1912.05" y1="1579.33" x2="1912.05" y2="1603.58" stroke="#111111" stroke-width="1.7"/>
<rect x="1903.25" y="1532.36" width="17.6" height="46.97" fill="#9ad4fe" stroke="#111111" stroke-width="1.8"/>
<line x1="1903.25" y1="1559.64" x2="1920.85" y2="1559.64" stroke="#111111" stroke-width="3.6"/>
<line x1="1931.45" y1="1423.58" x2="1931.45" y2="1443.27" stroke="#111111" stroke-width="1.7"/>
<line x1="1931.45" y1="1463.58" x2="1931.45" y2="1485.39" stroke="#111111" stroke-width="1.7"/>
<rect x="1922.65" y="1443.27" width="17.6" height="20.3" fill="#f0fe62" stroke="#111111" stroke-width="1.8"/>
<line x1="1922.65" y1="1453.58" x2="1940.25" y2="1453.58" stroke="#111111" stroke-width="3.6"/>
<circle cx="1931.45" cy="1495.39" r="3.9" fill="#111111"/>
<rect x="96.8" y="1158.4" width="232.31" height="556.5" fill="rgb(170,170,170)" fill-opacity="0.26"/>
<rect x="637.35" y="1158.4" width="307.84" height="556.5" fill="rgb(170,170,170)" fill-opacity="0.26"/>
<rect x="1253.43" y="1158.4" width="307.84" height="556.5" fill="rgb(170,170,170)" fill-opacity="0.26"/>
<rect x="1869.51" y="1158.4" width="81.49" height="556.5" fill="rgb(170,170,170)" fill-opacity="0.26"/>
<rect x="94.2" y="1156.2" width="1857.8" height="559.5" fill="none" stroke="#111" stroke-width="1.9"/>
<line x1="86.3" y1="1690.7" x2="94.2" y2="1690.7" stroke="#111" stroke-width="2.3"/>
<text x="80.2" y="1699.3" font-size="22" fill="#262626" text-anchor="end">0</text>
<line x1="86.3" y1="1555.2" x2="94.2" y2="1555.2" stroke="#111" stroke-width="2.3"/>
<text x="80.2" y="1563.8" font-size="22" fill="#262626" text-anchor="end">50</text>
<line x1="86.3" y1="1419.7" x2="94.2" y2="1419.7" stroke="#111" stroke-width="2.3"/>
<text x="80.2" y="1428.3" font-size="22" fill="#262626" text-anchor="end">100</text>
<line x1="86.3" y1="1284.2" x2="94.2" y2="1284.2" stroke="#111" stroke-width="2.3"/>
<text x="80.2" y="1292.8" font-size="22" fill="#262626" text-anchor="end">150</text>
</g>
<text transform="translate(1976,284.75) rotate(90)" font-size="31.3" font-style="italic" fill="#111" text-anchor="middle">P. dulcis</text>
<text transform="translate(1976,860.75) rotate(90)" font-size="31.3" font-style="italic" fill="#111" text-anchor="middle">P. vera</text>
<text transform="translate(1976,1436.75) rotate(90)" font-size="31.3" font-style="italic" fill="#111" text-anchor="middle">J. regia</text>
<line x1="124.85" y1="1715.7" x2="124.85" y2="1722.8" stroke="#111" stroke-width="2.3"/>
<text transform="translate(132.95,1730.2) rotate(-90)" font-size="21.6" fill="#222" text-anchor="end">2017-01</text>
<line x1="176.19" y1="1715.7" x2="176.19" y2="1722.8" stroke="#111" stroke-width="2.3"/>
<text transform="translate(184.29,1730.2) rotate(-90)" font-size="21.6" fill="#222" text-anchor="end">2017-02</text>
<line x1="227.53" y1="1715.7" x2="227.53" y2="1722.8" stroke="#111" stroke-width="2.3"/>
<text transform="translate(235.63,1730.2) rotate(-90)" font-size="21.6" fill="#222" text-anchor="end">2017-03</text>
<line x1="278.87" y1="1715.7" x2="278.87" y2="1722.8" stroke="#111" stroke-width="2.3"/>
<text transform="translate(286.97,1730.2) rotate(-90)" font-size="21.6" fill="#222" text-anchor="end">2017-04</text>
<line x1="330.21" y1="1715.7" x2="330.21" y2="1722.8" stroke="#111" stroke-width="2.3"/>
<text transform="translate(338.31,1730.2) rotate(-90)" font-size="21.6" fill="#222" text-anchor="end">2017-05</text>
<line x1="381.55" y1="1715.7" x2="381.55" y2="1722.8" stroke="#111" stroke-width="2.3"/>
<text transform="translate(389.65,1730.2) rotate(-90)" font-size="21.6" fill="#222" text-anchor="end">2017-06</text>
<line x1="432.89" y1="1715.7" x2="432.89" y2="1722.8" stroke="#111" stroke-width="2.3"/>
<text transform="translate(440.99,1730.2) rotate(-90)" font-size="21.6" fill="#222" text-anchor="end">2017-07</text>
<line x1="484.23" y1="1715.7" x2="484.23" y2="1722.8" stroke="#111" stroke-width="2.3"/>
<text transform="translate(492.33,1730.2) rotate(-90)" font-size="21.6" fill="#222" text-anchor="end">2017-08</text>
<line x1="535.57" y1="1715.7" x2="535.57" y2="1722.8" stroke="#111" stroke-width="2.3"/>
<text transform="translate(543.67,1730.2) rotate(-90)" font-size="21.6" fill="#222" text-anchor="end">2017-09</text>
<line x1="586.91" y1="1715.7" x2="586.91" y2="1722.8" stroke="#111" stroke-width="2.3"/>
<text transform="translate(595.01,1730.2) rotate(-90)" font-size="21.6" fill="#222" text-anchor="end">2017-10</text>
<line x1="638.25" y1="1715.7" x2="638.25" y2="1722.8" stroke="#111" stroke-width="2.3"/>
<text transform="translate(646.35,1730.2) rotate(-90)" font-size="21.6" fill="#222" text-anchor="end">2017-11</text>
<line x1="689.59" y1="1715.7" x2="689.59" y2="1722.8" stroke="#111" stroke-width="2.3"/>
<text transform="translate(697.69,1730.2) rotate(-90)" font-size="21.6" fill="#222" text-anchor="end">2017-12</text>
<line x1="740.93" y1="1715.7" x2="740.93" y2="1722.8" stroke="#111" stroke-width="2.3"/>
<text transform="translate(749.03,1730.2) rotate(-90)" font-size="21.6" fill="#222" text-anchor="end">2018-01</text>
<line x1="792.27" y1="1715.7" x2="792.27" y2="1722.8" stroke="#111" stroke-width="2.3"/>
<text transform="translate(800.37,1730.2) rotate(-90)" font-size="21.6" fill="#222" text-anchor="end">2018-02</text>
<line x1="843.61" y1="1715.7" x2="843.61" y2="1722.8" stroke="#111" stroke-width="2.3"/>
<text transform="translate(851.71,1730.2) rotate(-90)" font-size="21.6" fill="#222" text-anchor="end">2018-03</text>
<line x1="894.95" y1="1715.7" x2="894.95" y2="1722.8" stroke="#111" stroke-width="2.3"/>
<text transform="translate(903.05,1730.2) rotate(-90)" font-size="21.6" fill="#222" text-anchor="end">2018-04</text>
<line x1="946.29" y1="1715.7" x2="946.29" y2="1722.8" stroke="#111" stroke-width="2.3"/>
<text transform="translate(954.39,1730.2) rotate(-90)" font-size="21.6" fill="#222" text-anchor="end">2018-05</text>
<line x1="997.63" y1="1715.7" x2="997.63" y2="1722.8" stroke="#111" stroke-width="2.3"/>
<text transform="translate(1005.73,1730.2) rotate(-90)" font-size="21.6" fill="#222" text-anchor="end">2018-06</text>
<line x1="1048.97" y1="1715.7" x2="1048.97" y2="1722.8" stroke="#111" stroke-width="2.3"/>
<text transform="translate(1057.07,1730.2) rotate(-90)" font-size="21.6" fill="#222" text-anchor="end">2018-07</text>
<line x1="1100.31" y1="1715.7" x2="1100.31" y2="1722.8" stroke="#111" stroke-width="2.3"/>
<text transform="translate(1108.41,1730.2) rotate(-90)" font-size="21.6" fill="#222" text-anchor="end">2018-08</text>
<line x1="1151.65" y1="1715.7" x2="1151.65" y2="1722.8" stroke="#111" stroke-width="2.3"/>
<text transform="translate(1159.75,1730.2) rotate(-90)" font-size="21.6" fill="#222" text-anchor="end">2018-09</text>
<line x1="1202.99" y1="1715.7" x2="1202.99" y2="1722.8" stroke="#111" stroke-width="2.3"/>
<text transform="translate(1211.09,1730.2) rotate(-90)" font-size="21.6" fill="#222" text-anchor="end">2018-10</text>
<line x1="1254.33" y1="1715.7" x2="1254.33" y2="1722.8" stroke="#111" stroke-width="2.3"/>
<text transform="translate(1262.43,1730.2) rotate(-90)" font-size="21.6" fill="#222" text-anchor="end">2018-11</text>
<line x1="1305.67" y1="1715.7" x2="1305.67" y2="1722.8" stroke="#111" stroke-width="2.3"/>
<text transform="translate(1313.77,1730.2) rotate(-90)" font-size="21.6" fill="#222" text-anchor="end">2018-12</text>
<line x1="1357.01" y1="1715.7" x2="1357.01" y2="1722.8" stroke="#111" stroke-width="2.3"/>
<text transform="translate(1365.11,1730.2) rotate(-90)" font-size="21.6" fill="#222" text-anchor="end">2019-01</text>
<line x1="1408.35" y1="1715.7" x2="1408.35" y2="1722.8" stroke="#111" stroke-width="2.3"/>
<text transform="translate(1416.45,1730.2) rotate(-90)" font-size="21.6" fill="#222" text-anchor="end">2019-02</text>
<line x1="1459.69" y1="1715.7" x2="1459.69" y2="1722.8" stroke="#111" stroke-width="2.3"/>
<text transform="translate(1467.79,1730.2) rotate(-90)" font-size="21.6" fill="#222" text-anchor="end">2019-03</text>
<line x1="1511.03" y1="1715.7" x2="1511.03" y2="1722.8" stroke="#111" stroke-width="2.3"/>
<text transform="translate(1519.13,1730.2) rotate(-90)" font-size="21.6" fill="#222" text-anchor="end">2019-04</text>
<line x1="1562.37" y1="1715.7" x2="1562.37" y2="1722.8" stroke="#111" stroke-width="2.3"/>
<text transform="translate(1570.47,1730.2) rotate(-90)" font-size="21.6" fill="#222" text-anchor="end">2019-05</text>
<line x1="1613.71" y1="1715.7" x2="1613.71" y2="1722.8" stroke="#111" stroke-width="2.3"/>
<text transform="translate(1621.81,1730.2) rotate(-90)" font-size="21.6" fill="#222" text-anchor="end">2019-06</text>
<line x1="1665.05" y1="1715.7" x2="1665.05" y2="1722.8" stroke="#111" stroke-width="2.3"/>
<text transform="translate(1673.15,1730.2) rotate(-90)" font-size="21.6" fill="#222" text-anchor="end">2019-07</text>
<line x1="1716.39" y1="1715.7" x2="1716.39" y2="1722.8" stroke="#111" stroke-width="2.3"/>
<text transform="translate(1724.49,1730.2) rotate(-90)" font-size="21.6" fill="#222" text-anchor="end">2019-08</text>
<line x1="1767.73" y1="1715.7" x2="1767.73" y2="1722.8" stroke="#111" stroke-width="2.3"/>
<text transform="translate(1775.83,1730.2) rotate(-90)" font-size="21.6" fill="#222" text-anchor="end">2019-09</text>
<line x1="1819.07" y1="1715.7" x2="1819.07" y2="1722.8" stroke="#111" stroke-width="2.3"/>
<text transform="translate(1827.17,1730.2) rotate(-90)" font-size="21.6" fill="#222" text-anchor="end">2019-10</text>
<line x1="1870.41" y1="1715.7" x2="1870.41" y2="1722.8" stroke="#111" stroke-width="2.3"/>
<text transform="translate(1878.51,1730.2) rotate(-90)" font-size="21.6" fill="#222" text-anchor="end">2019-11</text>
<line x1="1921.75" y1="1715.7" x2="1921.75" y2="1722.8" stroke="#111" stroke-width="2.3"/>
<text transform="translate(1929.85,1730.2) rotate(-90)" font-size="21.6" fill="#222" text-anchor="end">2019-12</text>
<text x="1023.1" y="1838.6" font-size="30.3" font-weight="bold" fill="#000" text-anchor="middle">Time (Year-Month)</text>
<text transform="translate(31.4,859.95) rotate(-90)" font-size="30" font-weight="bold" fill="#000" text-anchor="middle">Concentration (mg/g DW)</text>
<rect x="146" y="29" width="266.5" height="120" fill="#fff"/>
<line x1="179.9" y1="62" x2="179.9" y2="93.3" stroke="#111" stroke-width="1.7"/>
<rect x="166.2" y="68.3" width="27.4" height="18.6" fill="#9ad4fe" stroke="#111" stroke-width="1.8"/>
<line x1="166.2" y1="77.5" x2="193.6" y2="77.5" stroke="#111" stroke-width="2.3"/>
<line x1="179.9" y1="99.6" x2="179.9" y2="130.9" stroke="#111" stroke-width="1.7"/>
<rect x="166.2" y="105.9" width="27.4" height="18.6" fill="#f0fe62" stroke="#111" stroke-width="1.8"/>
<line x1="166.2" y1="115.1" x2="193.6" y2="115.1" stroke="#111" stroke-width="2.3"/>
<text x="213.5" y="87.6" font-size="24.2" fill="#000">Starch in bark</text>
<text x="213.5" y="124.4" font-size="24.2" fill="#000">Sugar in bark</text>
</svg></body></html>
